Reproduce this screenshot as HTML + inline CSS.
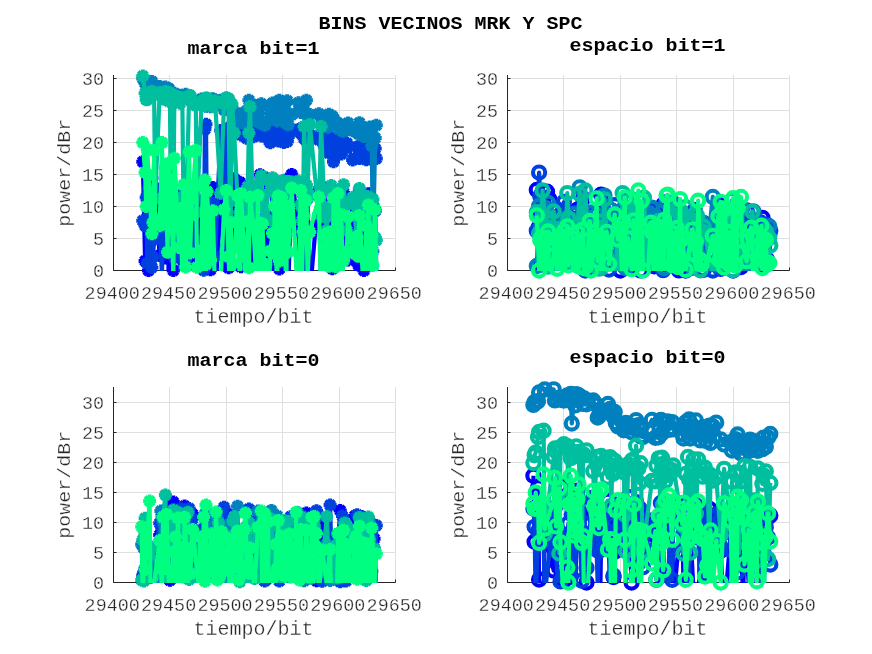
<!DOCTYPE html>
<html><head><meta charset="utf-8"><title>BINS VECINOS MRK Y SPC</title>
<style>html,body{margin:0;padding:0;background:#fff;overflow:hidden}svg{display:block}text{font-family:"Liberation Mono",monospace;fill:#262626}.tl{font-size:18.4px;stroke:#fff;stroke-width:.3px}.lb{font-size:20px;stroke:#fff;stroke-width:.32px}.tt{font-size:20px;font-weight:bold;fill:#000}.gr{stroke:#dfdfdf;stroke-width:1}.axl{fill:none;stroke:#262626;stroke-width:1}.tk{stroke:#262626;stroke-width:1}.ln{fill:none;stroke-width:4.2;stroke-linejoin:round}.mk{fill:none;stroke:none}</style></head><body>
<svg width="872" height="654" viewBox="0 0 872 654">
<rect width="872" height="654" fill="#fff"/>
<defs>
<marker id="ma0" markerUnits="userSpaceOnUse" markerWidth="16" markerHeight="16" refX="8" refY="8" overflow="visible"><path d="M8 1.5V14.5M1.5 8H14.5M3.4 3.4L12.6 12.6M12.6 3.4L3.4 12.6" stroke="#0000ff" stroke-width="4" fill="none"/></marker>
<marker id="mo0" markerUnits="userSpaceOnUse" markerWidth="22" markerHeight="22" refX="11" refY="11" overflow="visible"><circle cx="11" cy="11" r="6.1" stroke="#0000ff" stroke-width="4.1" fill="none"/></marker>
<marker id="ma1" markerUnits="userSpaceOnUse" markerWidth="16" markerHeight="16" refX="8" refY="8" overflow="visible"><path d="M8 1.5V14.5M1.5 8H14.5M3.4 3.4L12.6 12.6M12.6 3.4L3.4 12.6" stroke="#0040df" stroke-width="4" fill="none"/></marker>
<marker id="mo1" markerUnits="userSpaceOnUse" markerWidth="22" markerHeight="22" refX="11" refY="11" overflow="visible"><circle cx="11" cy="11" r="6.1" stroke="#0040df" stroke-width="4.1" fill="none"/></marker>
<marker id="ma2" markerUnits="userSpaceOnUse" markerWidth="16" markerHeight="16" refX="8" refY="8" overflow="visible"><path d="M8 1.5V14.5M1.5 8H14.5M3.4 3.4L12.6 12.6M12.6 3.4L3.4 12.6" stroke="#0080bf" stroke-width="4" fill="none"/></marker>
<marker id="mo2" markerUnits="userSpaceOnUse" markerWidth="22" markerHeight="22" refX="11" refY="11" overflow="visible"><circle cx="11" cy="11" r="6.1" stroke="#0080bf" stroke-width="4.1" fill="none"/></marker>
<marker id="ma3" markerUnits="userSpaceOnUse" markerWidth="16" markerHeight="16" refX="8" refY="8" overflow="visible"><path d="M8 1.5V14.5M1.5 8H14.5M3.4 3.4L12.6 12.6M12.6 3.4L3.4 12.6" stroke="#00bf9f" stroke-width="4" fill="none"/></marker>
<marker id="mo3" markerUnits="userSpaceOnUse" markerWidth="22" markerHeight="22" refX="11" refY="11" overflow="visible"><circle cx="11" cy="11" r="6.1" stroke="#00bf9f" stroke-width="4.1" fill="none"/></marker>
<marker id="ma4" markerUnits="userSpaceOnUse" markerWidth="16" markerHeight="16" refX="8" refY="8" overflow="visible"><path d="M8 1.5V14.5M1.5 8H14.5M3.4 3.4L12.6 12.6M12.6 3.4L3.4 12.6" stroke="#00ff80" stroke-width="4" fill="none"/></marker>
<marker id="mo4" markerUnits="userSpaceOnUse" markerWidth="22" markerHeight="22" refX="11" refY="11" overflow="visible"><circle cx="11" cy="11" r="6.1" stroke="#00ff80" stroke-width="4.1" fill="none"/></marker>
</defs>
<line x1="113.5" y1="75.0" x2="113.5" y2="270.5" class="gr"/>
<line x1="169.5" y1="75.0" x2="169.5" y2="270.5" class="gr"/>
<line x1="226.5" y1="75.0" x2="226.5" y2="270.5" class="gr"/>
<line x1="282.5" y1="75.0" x2="282.5" y2="270.5" class="gr"/>
<line x1="339.5" y1="75.0" x2="339.5" y2="270.5" class="gr"/>
<line x1="395.5" y1="75.0" x2="395.5" y2="270.5" class="gr"/>
<line x1="113.5" y1="270.5" x2="395.5" y2="270.5" class="gr"/>
<line x1="113.5" y1="238.5" x2="395.5" y2="238.5" class="gr"/>
<line x1="113.5" y1="206.5" x2="395.5" y2="206.5" class="gr"/>
<line x1="113.5" y1="174.5" x2="395.5" y2="174.5" class="gr"/>
<line x1="113.5" y1="142.5" x2="395.5" y2="142.5" class="gr"/>
<line x1="113.5" y1="110.5" x2="395.5" y2="110.5" class="gr"/>
<line x1="113.5" y1="78.5" x2="395.5" y2="78.5" class="gr"/>
<path d="M113.5 75.0V270.5H395.5" class="axl"/>
<line x1="113.5" y1="270.5" x2="113.5" y2="267.5" class="tk"/>
<line x1="169.5" y1="270.5" x2="169.5" y2="267.5" class="tk"/>
<line x1="226.5" y1="270.5" x2="226.5" y2="267.5" class="tk"/>
<line x1="282.5" y1="270.5" x2="282.5" y2="267.5" class="tk"/>
<line x1="339.5" y1="270.5" x2="339.5" y2="267.5" class="tk"/>
<line x1="395.5" y1="270.5" x2="395.5" y2="267.5" class="tk"/>
<line x1="113.5" y1="270.5" x2="116.5" y2="270.5" class="tk"/>
<line x1="113.5" y1="238.5" x2="116.5" y2="238.5" class="tk"/>
<line x1="113.5" y1="206.5" x2="116.5" y2="206.5" class="tk"/>
<line x1="113.5" y1="174.5" x2="116.5" y2="174.5" class="tk"/>
<line x1="113.5" y1="142.5" x2="116.5" y2="142.5" class="tk"/>
<line x1="113.5" y1="110.5" x2="116.5" y2="110.5" class="tk"/>
<line x1="113.5" y1="78.5" x2="116.5" y2="78.5" class="tk"/>
<clipPath id="cp0"><rect x="113.5" y="75.0" width="282.0" height="196.0"/></clipPath>
<polyline points="142.8,161.7 145.1,260.9 146.2,225.7 147.3,221.9 148.5,270.5 151.9,178.3 153.0,224.7 154.1,235.3 155.2,197.8 159.7,255.4 162.0,188.2 163.1,190.2 165.4,257.9 167.6,202.0 168.8,290.3 169.9,296.8 171.0,213.1 173.3,270.5 174.4,194.8 178.9,204.9 180.1,286.5 182.3,223.4 183.4,194.7 185.7,284.6 189.1,207.9 190.2,308.6 191.3,189.8 195.8,258.4 197.0,206.1 201.5,257.8 202.6,199.9 203.7,271.8 204.9,205.2 206.0,257.5 207.1,195.8 210.5,269.8 212.8,187.4 215.0,305.8 220.7,187.0 224.0,273.9 226.3,219.9 228.6,267.8 229.7,221.5 230.8,281.9 231.9,306.9 234.2,178.8 237.6,225.6 239.8,182.3 241.0,266.8 244.3,209.3 246.6,187.1 247.7,258.8 248.9,210.0 250.0,297.5 253.4,207.4 256.8,300.8 257.9,204.1 259.0,281.3 260.1,174.8 261.3,223.2 262.4,272.5 264.7,294.2 265.8,178.0 269.2,286.6 270.3,308.9 272.5,179.6 273.7,298.5 274.8,210.6 277.1,218.8 278.2,280.4 279.3,268.9 281.6,212.4 282.7,200.4 283.8,287.5 285.0,210.4 286.1,285.4 287.2,179.3 288.3,288.2 291.7,174.5 298.5,230.2 300.7,285.7 301.9,274.6 303.0,193.7 304.1,277.6 306.4,226.6 307.5,198.5 309.8,294.3 318.8,190.2 321.1,288.3 324.4,188.0 325.6,291.1 326.7,306.4 327.8,205.3 328.9,274.2 330.1,226.5 331.2,303.6 332.3,268.7 333.5,198.7 335.7,213.1 336.8,265.3 338.0,219.4 339.1,255.4 341.4,193.7 342.5,255.5 343.6,192.9 347.0,222.4 348.1,259.9 352.6,201.2 357.1,296.1 358.3,264.7 359.4,190.5 363.9,270.5 366.2,262.7 367.3,277.4 368.4,193.8 369.6,308.1 371.8,294.3 372.9,205.3 375.2,210.7 376.3,273.0" class="ln" stroke="#0000ff" clip-path="url(#cp0)"/>
<polyline points="142.8,161.7 145.1,260.9 146.2,225.7 147.3,221.9 148.5,270.5 151.9,178.3 153.0,224.7 154.1,235.3 155.2,197.8 159.7,255.4 162.0,188.2 163.1,190.2 165.4,257.9 167.6,202.0 171.0,213.1 173.3,270.5 174.4,194.8 178.9,204.9 182.3,223.4 183.4,194.7 189.1,207.9 191.3,189.8 195.8,258.4 197.0,206.1 201.5,257.8 202.6,199.9 204.9,205.2 206.0,257.5 207.1,195.8 210.5,269.8 212.8,187.4 220.7,187.0 226.3,219.9 228.6,267.8 229.7,221.5 234.2,178.8 237.6,225.6 239.8,182.3 241.0,266.8 244.3,209.3 246.6,187.1 247.7,258.8 248.9,210.0 253.4,207.4 257.9,204.1 260.1,174.8 261.3,223.2 265.8,178.0 272.5,179.6 274.8,210.6 277.1,218.8 279.3,268.9 281.6,212.4 282.7,200.4 285.0,210.4 287.2,179.3 291.7,174.5 298.5,230.2 303.0,193.7 306.4,226.6 307.5,198.5 318.8,190.2 324.4,188.0 327.8,205.3 330.1,226.5 332.3,268.7 333.5,198.7 335.7,213.1 336.8,265.3 338.0,219.4 339.1,255.4 341.4,193.7 342.5,255.5 343.6,192.9 347.0,222.4 348.1,259.9 352.6,201.2 358.3,264.7 359.4,190.5 363.9,270.5 366.2,262.7 368.4,193.8 372.9,205.3 375.2,210.7" class="mk" marker-start="url(#ma0)" marker-mid="url(#ma0)" marker-end="url(#ma0)"/>
<polyline points="142.8,220.8 145.1,225.7 146.2,197.5 147.3,263.3 148.5,188.7 151.9,267.4 153.0,257.1 154.1,239.4 155.2,217.2 159.7,223.3 162.0,276.0 163.1,206.8 165.4,244.9 167.6,240.0 168.8,236.6 169.9,248.9 171.0,201.3 173.3,248.1 174.4,258.0 178.9,195.9 180.1,273.5 182.3,259.1 183.4,293.4 185.7,238.0 189.1,276.9 190.2,247.8 191.3,197.9 195.8,247.0 197.0,240.3 201.5,263.1 202.6,267.7 203.7,270.3 204.9,129.2 206.0,124.2 207.1,255.7 210.5,235.3 212.8,203.5 215.0,256.7 220.7,130.6 224.0,131.4 226.3,245.7 228.6,137.2 229.7,127.5 230.8,135.2 231.9,130.4 234.2,132.1 237.6,129.1 239.8,133.0 241.0,134.9 244.3,125.7 246.6,138.2 247.7,127.6 248.9,136.6 250.0,137.3 253.4,136.7 256.8,134.5 257.9,127.9 259.0,130.6 260.1,125.9 261.3,136.0 262.4,130.4 264.7,129.4 265.8,134.7 269.2,140.7 270.3,142.7 272.5,126.6 273.7,131.1 274.8,131.3 277.1,128.6 278.2,141.0 279.3,131.0 281.6,140.5 282.7,126.5 283.8,142.4 285.0,134.9 286.1,127.4 287.2,141.5 288.3,137.1 291.7,130.5 298.5,129.4 300.7,133.2 301.9,127.9 303.0,130.0 304.1,138.6 306.4,131.6 307.5,143.2 309.8,134.4 318.8,139.8 321.1,133.5 324.4,146.4 325.6,151.3 326.7,149.3 327.8,134.4 328.9,153.1 330.1,148.1 331.2,137.5 332.3,144.4 333.5,161.7 335.7,154.0 336.8,154.0 338.0,138.5 339.1,145.5 341.4,153.9 342.5,140.6 343.6,147.6 347.0,143.3 348.1,146.6 352.6,159.9 357.1,147.1 358.3,146.8 359.4,158.5 363.9,157.0 366.2,159.7 367.3,154.2 368.4,143.9 369.6,152.1 371.8,159.4 372.9,156.8 375.2,148.6 376.3,158.5" class="ln" stroke="#0040df" clip-path="url(#cp0)"/>
<polyline points="142.8,220.8 145.1,225.7 146.2,197.5 147.3,263.3 148.5,188.7 151.9,267.4 153.0,257.1 154.1,239.4 155.2,217.2 159.7,223.3 163.1,206.8 165.4,244.9 167.6,240.0 168.8,236.6 169.9,248.9 171.0,201.3 173.3,248.1 174.4,258.0 178.9,195.9 182.3,259.1 185.7,238.0 190.2,247.8 191.3,197.9 195.8,247.0 197.0,240.3 201.5,263.1 202.6,267.7 203.7,270.3 204.9,129.2 206.0,124.2 207.1,255.7 210.5,235.3 212.8,203.5 215.0,256.7 220.7,130.6 224.0,131.4 226.3,245.7 228.6,137.2 229.7,127.5 230.8,135.2 231.9,130.4 234.2,132.1 237.6,129.1 239.8,133.0 241.0,134.9 244.3,125.7 246.6,138.2 247.7,127.6 248.9,136.6 250.0,137.3 253.4,136.7 256.8,134.5 257.9,127.9 259.0,130.6 260.1,125.9 261.3,136.0 262.4,130.4 264.7,129.4 265.8,134.7 269.2,140.7 270.3,142.7 272.5,126.6 273.7,131.1 274.8,131.3 277.1,128.6 278.2,141.0 279.3,131.0 281.6,140.5 282.7,126.5 283.8,142.4 285.0,134.9 286.1,127.4 287.2,141.5 288.3,137.1 291.7,130.5 298.5,129.4 300.7,133.2 301.9,127.9 303.0,130.0 304.1,138.6 306.4,131.6 307.5,143.2 309.8,134.4 318.8,139.8 321.1,133.5 324.4,146.4 325.6,151.3 326.7,149.3 327.8,134.4 328.9,153.1 330.1,148.1 331.2,137.5 332.3,144.4 333.5,161.7 335.7,154.0 336.8,154.0 338.0,138.5 339.1,145.5 341.4,153.9 342.5,140.6 343.6,147.6 347.0,143.3 348.1,146.6 352.6,159.9 357.1,147.1 358.3,146.8 359.4,158.5 363.9,157.0 366.2,159.7 367.3,154.2 368.4,143.9 369.6,152.1 371.8,159.4 372.9,156.8 375.2,148.6 376.3,158.5" class="mk" marker-start="url(#ma1)" marker-mid="url(#ma1)" marker-end="url(#ma1)"/>
<polyline points="142.8,78.6 145.1,83.1 146.2,85.0 147.3,86.6 148.5,81.7 151.9,81.4 153.0,89.7 154.1,90.7 155.2,86.1 159.7,86.4 162.0,88.4 163.1,88.1 165.4,87.1 167.6,91.8 168.8,88.6 169.9,94.3 171.0,96.1 173.3,95.1 174.4,93.2 178.9,97.8 180.1,95.3 182.3,97.3 183.4,97.1 185.7,94.2 189.1,95.6 190.2,96.8 191.3,101.3 195.8,103.5 197.0,102.5 201.5,99.1 202.6,101.8 203.7,99.2 204.9,103.9 206.0,106.2 207.1,98.4 210.5,106.7 212.8,98.7 215.0,99.9 220.7,100.3 224.0,109.7 226.3,98.2 228.6,99.7 229.7,107.4 230.8,111.1 231.9,107.7 234.2,120.9 237.6,121.9 239.8,113.7 241.0,116.0 244.3,123.8 246.6,110.8 247.7,119.9 248.9,100.3 250.0,115.0 253.4,112.7 256.8,105.6 257.9,121.8 259.0,109.6 260.1,122.9 261.3,103.8 262.4,121.8 264.7,125.3 265.8,122.5 269.2,105.9 270.3,113.4 272.5,103.1 273.7,117.7 274.8,106.5 277.1,121.1 278.2,106.5 279.3,100.3 281.6,112.1 282.7,116.1 283.8,105.8 285.0,109.3 286.1,123.6 287.2,100.8 288.3,124.8 291.7,114.7 298.5,102.8 300.7,112.5 301.9,107.3 303.0,106.0 304.1,111.4 306.4,100.3 307.5,115.5 309.8,114.5 318.8,113.8 321.1,118.5 324.4,122.4 325.6,119.5 326.7,125.6 327.8,127.3 328.9,114.2 330.1,124.1 331.2,120.0 332.3,116.2 333.5,118.5 335.7,123.1 336.8,122.5 338.0,123.2 339.1,129.2 341.4,126.5 342.5,130.9 343.6,131.1 347.0,129.6 348.1,123.0 352.6,130.7 357.1,132.1 358.3,133.9 359.4,122.7 363.9,136.4 366.2,134.5 367.3,130.8 368.4,136.2 369.6,127.1 371.8,145.7 372.9,251.3 375.2,138.0 376.3,125.2" class="ln" stroke="#0080bf" clip-path="url(#cp0)"/>
<polyline points="142.8,78.6 145.1,83.1 146.2,85.0 147.3,86.6 148.5,81.7 151.9,81.4 153.0,89.7 154.1,90.7 155.2,86.1 159.7,86.4 162.0,88.4 163.1,88.1 165.4,87.1 167.6,91.8 168.8,88.6 169.9,94.3 171.0,96.1 173.3,95.1 174.4,93.2 178.9,97.8 180.1,95.3 182.3,97.3 183.4,97.1 185.7,94.2 189.1,95.6 190.2,96.8 191.3,101.3 195.8,103.5 197.0,102.5 201.5,99.1 202.6,101.8 203.7,99.2 204.9,103.9 206.0,106.2 207.1,98.4 210.5,106.7 212.8,98.7 215.0,99.9 220.7,100.3 224.0,109.7 226.3,98.2 228.6,99.7 229.7,107.4 230.8,111.1 231.9,107.7 234.2,120.9 237.6,121.9 239.8,113.7 241.0,116.0 244.3,123.8 246.6,110.8 247.7,119.9 248.9,100.3 250.0,115.0 253.4,112.7 256.8,105.6 257.9,121.8 259.0,109.6 260.1,122.9 261.3,103.8 262.4,121.8 264.7,125.3 265.8,122.5 269.2,105.9 270.3,113.4 272.5,103.1 273.7,117.7 274.8,106.5 277.1,121.1 278.2,106.5 279.3,100.3 281.6,112.1 282.7,116.1 283.8,105.8 285.0,109.3 286.1,123.6 287.2,100.8 288.3,124.8 291.7,114.7 298.5,102.8 300.7,112.5 301.9,107.3 303.0,106.0 304.1,111.4 306.4,100.3 307.5,115.5 309.8,114.5 318.8,113.8 321.1,118.5 324.4,122.4 325.6,119.5 326.7,125.6 327.8,127.3 328.9,114.2 330.1,124.1 331.2,120.0 332.3,116.2 333.5,118.5 335.7,123.1 336.8,122.5 338.0,123.2 339.1,129.2 341.4,126.5 342.5,130.9 343.6,131.1 347.0,129.6 348.1,123.0 352.6,130.7 357.1,132.1 358.3,133.9 359.4,122.7 363.9,136.4 366.2,134.5 367.3,130.8 368.4,136.2 369.6,127.1 371.8,145.7 372.9,251.3 375.2,138.0 376.3,125.2" class="mk" marker-start="url(#ma2)" marker-mid="url(#ma2)" marker-end="url(#ma2)"/>
<polyline points="142.8,75.9 145.1,93.2 146.2,99.8 147.3,99.5 148.5,93.2 151.9,91.2 153.0,94.8 154.1,93.5 155.2,198.5 159.7,92.6 162.0,93.8 163.1,99.1 165.4,91.6 167.6,99.5 168.8,101.2 169.9,92.7 171.0,230.2 173.3,210.7 174.4,95.5 178.9,97.2 180.1,103.2 182.3,98.1 183.4,196.7 185.7,227.5 189.1,96.0 190.2,95.6 191.3,99.4 195.8,105.5 197.0,212.2 201.5,103.9 202.6,100.7 203.7,100.2 204.9,105.8 206.0,98.1 207.1,98.3 210.5,102.6 212.8,106.5 215.0,100.9 220.7,193.2 224.0,103.8 226.3,97.8 228.6,98.7 229.7,196.8 230.8,221.0 231.9,104.1 234.2,132.9 237.6,201.3 239.8,212.3 241.0,213.6 244.3,197.0 246.6,218.5 247.7,186.7 248.9,132.9 250.0,106.7 253.4,226.9 256.8,184.4 257.9,199.7 259.0,194.1 260.1,198.2 261.3,175.8 262.4,207.4 264.7,209.1 265.8,218.6 269.2,181.1 270.3,190.9 272.5,177.8 273.7,221.2 274.8,182.3 277.1,201.5 278.2,189.3 279.3,181.8 281.6,244.4 282.7,180.6 283.8,211.2 285.0,237.3 286.1,234.5 287.2,189.9 288.3,181.5 291.7,182.0 298.5,180.9 300.7,205.1 301.9,221.0 303.0,209.5 304.1,126.5 306.4,184.9 307.5,191.7 309.8,124.6 318.8,213.9 321.1,126.5 324.4,208.4 325.6,217.5 326.7,230.4 327.8,207.7 328.9,208.4 330.1,189.0 331.2,185.4 332.3,191.1 333.5,197.5 335.7,190.3 336.8,211.9 338.0,226.8 339.1,210.8 341.4,205.2 342.5,204.3 343.6,184.8 347.0,230.7 348.1,204.5 352.6,197.5 357.1,239.2 358.3,203.8 359.4,188.4 363.9,201.0 366.2,215.0 367.3,196.3 368.4,211.6 369.6,210.8 371.8,233.6 372.9,199.2 375.2,237.8 376.3,240.2" class="ln" stroke="#00bf9f" clip-path="url(#cp0)"/>
<polyline points="142.8,75.9 145.1,93.2 146.2,99.8 147.3,99.5 148.5,93.2 151.9,91.2 153.0,94.8 154.1,93.5 155.2,198.5 159.7,92.6 162.0,93.8 163.1,99.1 165.4,91.6 167.6,99.5 168.8,101.2 169.9,92.7 171.0,230.2 173.3,210.7 174.4,95.5 178.9,97.2 180.1,103.2 182.3,98.1 183.4,196.7 185.7,227.5 189.1,96.0 190.2,95.6 191.3,99.4 195.8,105.5 197.0,212.2 201.5,103.9 202.6,100.7 203.7,100.2 204.9,105.8 206.0,98.1 207.1,98.3 210.5,102.6 212.8,106.5 215.0,100.9 220.7,193.2 224.0,103.8 226.3,97.8 228.6,98.7 229.7,196.8 230.8,221.0 231.9,104.1 234.2,132.9 237.6,201.3 239.8,212.3 241.0,213.6 244.3,197.0 246.6,218.5 247.7,186.7 248.9,132.9 250.0,106.7 253.4,226.9 256.8,184.4 257.9,199.7 259.0,194.1 260.1,198.2 261.3,175.8 262.4,207.4 264.7,209.1 265.8,218.6 269.2,181.1 270.3,190.9 272.5,177.8 273.7,221.2 274.8,182.3 277.1,201.5 278.2,189.3 279.3,181.8 281.6,244.4 282.7,180.6 283.8,211.2 285.0,237.3 286.1,234.5 287.2,189.9 288.3,181.5 291.7,182.0 298.5,180.9 300.7,205.1 301.9,221.0 303.0,209.5 304.1,126.5 306.4,184.9 307.5,191.7 309.8,124.6 318.8,213.9 321.1,126.5 324.4,208.4 325.6,217.5 326.7,230.4 327.8,207.7 328.9,208.4 330.1,189.0 331.2,185.4 332.3,191.1 333.5,197.5 335.7,190.3 336.8,211.9 338.0,226.8 339.1,210.8 341.4,205.2 342.5,204.3 343.6,184.8 347.0,230.7 348.1,204.5 352.6,197.5 357.1,239.2 358.3,203.8 359.4,188.4 363.9,201.0 366.2,215.0 367.3,196.3 368.4,211.6 369.6,210.8 371.8,233.6 372.9,199.2 375.2,237.8 376.3,240.2" class="mk" marker-start="url(#ma3)" marker-mid="url(#ma3)" marker-end="url(#ma3)"/>
<polyline points="142.8,142.5 145.1,172.6 146.2,206.5 147.3,149.2 148.5,174.9 151.9,233.7 153.0,222.6 154.1,150.6 155.2,223.7 159.7,225.7 162.0,142.5 163.1,216.4 165.4,168.0 167.6,252.3 168.8,163.0 169.9,189.4 171.0,180.3 173.3,277.4 174.4,158.2 178.9,247.5 180.1,208.4 182.3,271.7 183.4,185.0 185.7,266.9 189.1,152.1 190.2,252.9 191.3,215.2 195.8,150.2 197.0,267.3 201.5,250.2 202.6,186.0 203.7,302.4 204.9,179.9 206.0,264.6 207.1,191.6 210.5,260.0 212.8,210.8 215.0,291.5 220.7,280.2 224.0,209.7 226.3,190.4 228.6,256.8 229.7,292.2 230.8,222.7 231.9,288.7 234.2,263.0 237.6,195.5 239.8,285.6 241.0,193.7 244.3,256.5 246.6,308.5 247.7,221.7 248.9,267.8 250.0,197.3 253.4,226.8 256.8,288.1 257.9,195.6 259.0,280.7 260.1,223.3 261.3,283.7 262.4,224.1 264.7,278.5 265.8,264.6 269.2,287.2 270.3,250.9 272.5,233.2 273.7,253.1 274.8,206.3 277.1,291.0 278.2,195.9 279.3,261.1 281.6,197.4 282.7,219.9 283.8,253.6 285.0,211.9 286.1,308.8 287.2,206.4 288.3,252.1 291.7,188.1 298.5,306.9 300.7,190.4 301.9,295.0 303.0,231.7 304.1,215.9 306.4,200.6 307.5,277.9 309.8,232.0 318.8,197.0 321.1,303.5 324.4,235.4 325.6,290.7 326.7,279.8 327.8,232.7 328.9,266.3 330.1,232.6 331.2,287.9 332.3,306.5 333.5,198.0 335.7,266.8 336.8,274.4 338.0,193.6 339.1,284.1 341.4,214.8 342.5,272.8 343.6,260.6 347.0,251.2 348.1,216.7 352.6,253.0 357.1,236.6 358.3,256.3 359.4,215.4 363.9,294.5 366.2,226.1 367.3,273.9 368.4,205.1 369.6,283.6 371.8,234.7 372.9,265.4 375.2,209.7 376.3,279.4" class="ln" stroke="#00ff80" clip-path="url(#cp0)"/>
<polyline points="142.8,142.5 145.1,172.6 146.2,206.5 147.3,149.2 148.5,174.9 151.9,233.7 153.0,222.6 154.1,150.6 155.2,223.7 159.7,225.7 162.0,142.5 163.1,216.4 165.4,168.0 167.6,252.3 168.8,163.0 169.9,189.4 171.0,180.3 174.4,158.2 178.9,247.5 180.1,208.4 183.4,185.0 185.7,266.9 189.1,152.1 190.2,252.9 191.3,215.2 195.8,150.2 197.0,267.3 201.5,250.2 202.6,186.0 204.9,179.9 206.0,264.6 207.1,191.6 210.5,260.0 212.8,210.8 224.0,209.7 226.3,190.4 228.6,256.8 230.8,222.7 234.2,263.0 237.6,195.5 241.0,193.7 244.3,256.5 247.7,221.7 248.9,267.8 250.0,197.3 253.4,226.8 257.9,195.6 260.1,223.3 262.4,224.1 265.8,264.6 270.3,250.9 272.5,233.2 273.7,253.1 274.8,206.3 278.2,195.9 279.3,261.1 281.6,197.4 282.7,219.9 283.8,253.6 285.0,211.9 287.2,206.4 288.3,252.1 291.7,188.1 300.7,190.4 303.0,231.7 304.1,215.9 306.4,200.6 309.8,232.0 318.8,197.0 324.4,235.4 327.8,232.7 328.9,266.3 330.1,232.6 333.5,198.0 335.7,266.8 338.0,193.6 341.4,214.8 343.6,260.6 347.0,251.2 348.1,216.7 352.6,253.0 357.1,236.6 358.3,256.3 359.4,215.4 366.2,226.1 368.4,205.1 371.8,234.7 372.9,265.4 375.2,209.7" class="mk" marker-start="url(#ma4)" marker-mid="url(#ma4)" marker-end="url(#ma4)"/>
<line x1="507.5" y1="75.0" x2="507.5" y2="270.5" class="gr"/>
<line x1="563.5" y1="75.0" x2="563.5" y2="270.5" class="gr"/>
<line x1="620.5" y1="75.0" x2="620.5" y2="270.5" class="gr"/>
<line x1="676.5" y1="75.0" x2="676.5" y2="270.5" class="gr"/>
<line x1="733.5" y1="75.0" x2="733.5" y2="270.5" class="gr"/>
<line x1="789.5" y1="75.0" x2="789.5" y2="270.5" class="gr"/>
<line x1="507.5" y1="270.5" x2="789.5" y2="270.5" class="gr"/>
<line x1="507.5" y1="238.5" x2="789.5" y2="238.5" class="gr"/>
<line x1="507.5" y1="206.5" x2="789.5" y2="206.5" class="gr"/>
<line x1="507.5" y1="174.5" x2="789.5" y2="174.5" class="gr"/>
<line x1="507.5" y1="142.5" x2="789.5" y2="142.5" class="gr"/>
<line x1="507.5" y1="110.5" x2="789.5" y2="110.5" class="gr"/>
<line x1="507.5" y1="78.5" x2="789.5" y2="78.5" class="gr"/>
<path d="M507.5 75.0V270.5H789.5" class="axl"/>
<line x1="507.5" y1="270.5" x2="507.5" y2="267.5" class="tk"/>
<line x1="563.5" y1="270.5" x2="563.5" y2="267.5" class="tk"/>
<line x1="620.5" y1="270.5" x2="620.5" y2="267.5" class="tk"/>
<line x1="676.5" y1="270.5" x2="676.5" y2="267.5" class="tk"/>
<line x1="733.5" y1="270.5" x2="733.5" y2="267.5" class="tk"/>
<line x1="789.5" y1="270.5" x2="789.5" y2="267.5" class="tk"/>
<line x1="507.5" y1="270.5" x2="510.5" y2="270.5" class="tk"/>
<line x1="507.5" y1="238.5" x2="510.5" y2="238.5" class="tk"/>
<line x1="507.5" y1="206.5" x2="510.5" y2="206.5" class="tk"/>
<line x1="507.5" y1="174.5" x2="510.5" y2="174.5" class="tk"/>
<line x1="507.5" y1="142.5" x2="510.5" y2="142.5" class="tk"/>
<line x1="507.5" y1="110.5" x2="510.5" y2="110.5" class="tk"/>
<line x1="507.5" y1="78.5" x2="510.5" y2="78.5" class="tk"/>
<clipPath id="cp1"><rect x="507.5" y="75.0" width="282.0" height="196.0"/></clipPath>
<polyline points="536.8,189.9 539.1,226.7 540.2,211.7 541.3,264.4 542.5,220.5 545.9,256.8 547.0,191.7 548.1,263.9 549.2,199.1 553.7,277.8 556.0,216.8 557.1,251.6 559.4,251.4 561.6,228.0 562.8,292.2 563.9,239.7 565.0,240.9 567.3,297.6 568.4,290.1 572.9,226.4 574.1,261.1 576.3,287.9 577.4,209.6 579.7,281.5 583.1,198.4 584.2,300.4 585.3,276.2 589.8,231.7 591.0,286.6 595.5,213.8 596.6,261.2 597.7,237.5 598.9,292.7 600.0,220.6 601.1,194.6 604.5,299.3 606.8,278.8 609.0,224.1 614.7,288.5 618.0,241.2 620.3,270.5 622.6,258.0 623.7,241.4 624.8,301.1 625.9,200.7 628.2,267.3 631.6,227.1 633.8,265.6 635.0,290.1 638.3,236.6 640.6,270.4 641.7,214.1 642.9,275.9 644.0,262.9 647.4,234.5 650.8,287.5 651.9,211.6 653.0,237.7 654.1,266.3 655.3,227.7 656.4,281.2 658.7,240.2 659.8,257.7 663.2,204.8 664.3,275.9 666.5,241.7 667.7,255.9 668.8,229.4 671.1,289.1 672.2,208.7 673.3,275.2 675.6,236.9 676.7,301.9 677.8,241.6 679.0,270.4 680.1,271.2 681.2,274.9 682.3,239.2 685.7,270.5 692.5,278.6 694.7,240.8 695.9,260.0 697.0,222.6 698.1,260.2 700.4,233.0 701.5,284.3 703.8,223.2 712.8,300.5 715.1,230.3 718.4,259.5 719.6,204.0 720.7,268.8 721.8,237.5 722.9,229.1 724.1,255.7 725.2,290.3 726.3,252.7 727.5,292.0 729.7,241.7 730.8,224.4 732.0,263.4 733.1,270.5 735.4,241.2 736.5,256.1 737.6,228.8 741.0,267.1 742.1,218.1 746.6,277.7 751.1,228.5 752.3,240.1 753.4,257.0 757.9,281.3 760.2,236.5 761.3,265.3 762.4,217.8 763.6,259.8 765.8,226.6 766.9,259.6 769.2,235.8 770.3,278.4" class="ln" stroke="#0000ff" clip-path="url(#cp1)"/>
<polyline points="536.8,189.9 539.1,226.7 540.2,211.7 541.3,264.4 542.5,220.5 545.9,256.8 547.0,191.7 548.1,263.9 549.2,199.1 556.0,216.8 557.1,251.6 559.4,251.4 561.6,228.0 563.9,239.7 565.0,240.9 572.9,226.4 574.1,261.1 577.4,209.6 583.1,198.4 589.8,231.7 595.5,213.8 596.6,261.2 597.7,237.5 600.0,220.6 601.1,194.6 609.0,224.1 618.0,241.2 620.3,270.5 622.6,258.0 623.7,241.4 625.9,200.7 628.2,267.3 631.6,227.1 633.8,265.6 638.3,236.6 640.6,270.4 641.7,214.1 644.0,262.9 647.4,234.5 651.9,211.6 653.0,237.7 654.1,266.3 655.3,227.7 658.7,240.2 659.8,257.7 663.2,204.8 666.5,241.7 667.7,255.9 668.8,229.4 672.2,208.7 675.6,236.9 677.8,241.6 679.0,270.4 682.3,239.2 685.7,270.5 694.7,240.8 695.9,260.0 697.0,222.6 698.1,260.2 700.4,233.0 703.8,223.2 715.1,230.3 718.4,259.5 719.6,204.0 720.7,268.8 721.8,237.5 722.9,229.1 724.1,255.7 726.3,252.7 729.7,241.7 730.8,224.4 732.0,263.4 733.1,270.5 735.4,241.2 736.5,256.1 737.6,228.8 741.0,267.1 742.1,218.1 751.1,228.5 752.3,240.1 753.4,257.0 760.2,236.5 761.3,265.3 762.4,217.8 763.6,259.8 765.8,226.6 766.9,259.6 769.2,235.8" class="mk" marker-start="url(#mo0)" marker-mid="url(#mo0)" marker-end="url(#mo0)"/>
<polyline points="536.8,230.7 539.1,172.6 540.2,195.9 541.3,271.8 542.5,237.8 545.9,256.5 547.0,227.1 548.1,299.1 549.2,234.8 553.7,218.7 556.0,282.4 557.1,209.2 559.4,274.6 561.6,297.1 562.8,297.0 563.9,202.0 565.0,224.8 567.3,300.2 568.4,235.3 572.9,282.2 574.1,212.8 576.3,294.4 577.4,263.1 579.7,295.3 583.1,241.0 584.2,292.9 585.3,270.5 589.8,232.2 591.0,291.9 595.5,301.8 596.6,225.1 597.7,274.7 598.9,229.7 600.0,236.6 601.1,294.9 604.5,216.6 606.8,299.3 609.0,269.6 614.7,205.2 618.0,212.1 620.3,299.5 622.6,288.5 623.7,217.8 624.8,267.0 625.9,241.7 628.2,265.5 631.6,218.7 633.8,278.0 635.0,238.8 638.3,289.3 640.6,210.5 641.7,297.9 642.9,239.1 644.0,287.8 647.4,239.7 650.8,274.2 651.9,210.9 653.0,260.6 654.1,222.4 655.3,282.3 656.4,213.2 658.7,218.1 659.8,239.9 663.2,270.2 664.3,241.1 666.5,264.9 667.7,210.7 668.8,276.0 671.1,230.1 672.2,254.9 673.3,210.8 675.6,274.8 676.7,222.8 677.8,213.3 679.0,258.4 680.1,230.6 681.2,222.5 682.3,276.7 685.7,237.8 692.5,300.2 694.7,209.9 695.9,299.4 697.0,236.1 698.1,225.7 700.4,270.1 701.5,293.2 703.8,269.8 712.8,270.5 715.1,263.2 718.4,240.2 719.6,267.9 720.7,218.9 721.8,263.8 722.9,268.0 724.1,231.4 725.2,271.4 726.3,240.0 727.5,280.3 729.7,222.7 730.8,294.6 732.0,211.9 733.1,288.8 735.4,232.5 736.5,284.5 737.6,292.7 741.0,214.8 742.1,297.3 746.6,210.3 751.1,281.6 752.3,236.9 753.4,253.0 757.9,290.6 760.2,222.2 761.3,257.8 762.4,236.0 763.6,253.3 765.8,226.3 766.9,224.8 769.2,287.1 770.3,230.5" class="ln" stroke="#0040df" clip-path="url(#cp1)"/>
<polyline points="536.8,230.7 539.1,172.6 540.2,195.9 542.5,237.8 545.9,256.5 547.0,227.1 549.2,234.8 553.7,218.7 557.1,209.2 563.9,202.0 565.0,224.8 568.4,235.3 574.1,212.8 577.4,263.1 583.1,241.0 585.3,270.5 589.8,232.2 596.6,225.1 598.9,229.7 600.0,236.6 604.5,216.6 609.0,269.6 614.7,205.2 618.0,212.1 623.7,217.8 624.8,267.0 625.9,241.7 628.2,265.5 631.6,218.7 635.0,238.8 640.6,210.5 642.9,239.1 647.4,239.7 651.9,210.9 653.0,260.6 654.1,222.4 656.4,213.2 658.7,218.1 659.8,239.9 663.2,270.2 664.3,241.1 666.5,264.9 667.7,210.7 671.1,230.1 672.2,254.9 673.3,210.8 676.7,222.8 677.8,213.3 679.0,258.4 680.1,230.6 681.2,222.5 685.7,237.8 694.7,209.9 697.0,236.1 698.1,225.7 700.4,270.1 703.8,269.8 712.8,270.5 715.1,263.2 718.4,240.2 719.6,267.9 720.7,218.9 721.8,263.8 722.9,268.0 724.1,231.4 726.3,240.0 729.7,222.7 732.0,211.9 735.4,232.5 741.0,214.8 746.6,210.3 752.3,236.9 753.4,253.0 760.2,222.2 761.3,257.8 762.4,236.0 763.6,253.3 765.8,226.3 766.9,224.8 770.3,230.5" class="mk" marker-start="url(#mo1)" marker-mid="url(#mo1)" marker-end="url(#mo1)"/>
<polyline points="536.8,266.0 539.1,206.0 540.2,292.4 541.3,226.9 542.5,287.2 545.9,208.1 547.0,299.6 548.1,202.9 549.2,294.4 553.7,220.3 556.0,262.1 557.1,221.7 559.4,297.1 561.6,291.8 562.8,258.7 563.9,226.4 565.0,297.1 567.3,218.1 568.4,271.9 572.9,272.2 574.1,214.3 576.3,278.9 577.4,230.8 579.7,187.3 583.1,214.2 584.2,295.1 585.3,228.9 589.8,281.3 591.0,212.3 595.5,252.0 596.6,214.5 597.7,238.6 598.9,239.0 600.0,285.8 601.1,233.3 604.5,195.6 606.8,238.6 609.0,208.6 614.7,225.1 618.0,299.0 620.3,253.8 622.6,209.5 623.7,254.4 624.8,226.1 625.9,268.2 628.2,238.6 631.6,200.8 633.8,223.2 635.0,295.8 638.3,212.5 640.6,227.2 641.7,276.7 642.9,207.5 644.0,258.0 647.4,239.5 650.8,283.3 651.9,207.7 653.0,283.1 654.1,277.8 655.3,216.0 656.4,300.6 658.7,240.7 659.8,274.1 663.2,235.4 664.3,268.2 666.5,202.0 667.7,221.4 668.8,280.7 671.1,231.4 672.2,286.0 673.3,203.0 675.6,301.3 676.7,206.4 677.8,265.5 679.0,241.5 680.1,254.3 681.2,234.5 682.3,297.5 685.7,237.3 692.5,267.8 694.7,240.1 695.9,240.3 697.0,255.5 698.1,241.1 700.4,223.7 701.5,222.0 703.8,279.3 712.8,196.9 715.1,264.5 718.4,216.0 719.6,292.0 720.7,230.8 721.8,300.6 722.9,241.4 724.1,300.3 725.2,219.6 726.3,289.6 727.5,288.2 729.7,236.3 730.8,276.5 732.0,236.9 733.1,260.3 735.4,208.7 736.5,271.3 737.6,236.0 741.0,285.2 742.1,208.3 746.6,294.7 751.1,240.0 752.3,292.3 753.4,211.3 757.9,238.3 760.2,275.2 761.3,239.1 762.4,225.4 763.6,296.6 765.8,235.6 766.9,301.1 769.2,226.3 770.3,292.5" class="ln" stroke="#0080bf" clip-path="url(#cp1)"/>
<polyline points="536.8,266.0 539.1,206.0 541.3,226.9 545.9,208.1 548.1,202.9 553.7,220.3 556.0,262.1 557.1,221.7 562.8,258.7 563.9,226.4 567.3,218.1 574.1,214.3 577.4,230.8 579.7,187.3 583.1,214.2 585.3,228.9 591.0,212.3 595.5,252.0 596.6,214.5 597.7,238.6 598.9,239.0 601.1,233.3 604.5,195.6 606.8,238.6 609.0,208.6 614.7,225.1 620.3,253.8 622.6,209.5 623.7,254.4 624.8,226.1 625.9,268.2 628.2,238.6 631.6,200.8 633.8,223.2 638.3,212.5 640.6,227.2 642.9,207.5 644.0,258.0 647.4,239.5 651.9,207.7 655.3,216.0 658.7,240.7 663.2,235.4 664.3,268.2 666.5,202.0 667.7,221.4 671.1,231.4 673.3,203.0 676.7,206.4 677.8,265.5 679.0,241.5 680.1,254.3 681.2,234.5 685.7,237.3 692.5,267.8 694.7,240.1 695.9,240.3 697.0,255.5 698.1,241.1 700.4,223.7 701.5,222.0 712.8,196.9 715.1,264.5 718.4,216.0 720.7,230.8 722.9,241.4 725.2,219.6 729.7,236.3 732.0,236.9 733.1,260.3 735.4,208.7 737.6,236.0 742.1,208.3 751.1,240.0 753.4,211.3 757.9,238.3 761.3,239.1 762.4,225.4 765.8,235.6 769.2,226.3" class="mk" marker-start="url(#mo2)" marker-mid="url(#mo2)" marker-end="url(#mo2)"/>
<polyline points="536.8,212.2 539.1,233.4 540.2,282.8 541.3,240.8 542.5,190.5 545.9,227.3 547.0,217.9 548.1,266.7 549.2,284.6 553.7,211.4 556.0,292.6 557.1,229.1 559.4,252.1 561.6,235.9 562.8,286.7 563.9,227.7 565.0,257.4 567.3,193.1 568.4,218.3 572.9,258.6 574.1,236.8 576.3,265.0 577.4,230.2 579.7,193.9 583.1,230.9 584.2,263.6 585.3,190.5 589.8,282.4 591.0,264.8 595.5,237.9 596.6,264.9 597.7,254.4 598.9,268.7 600.0,221.5 601.1,268.0 604.5,199.5 606.8,258.5 609.0,241.6 614.7,281.8 618.0,238.6 620.3,294.4 622.6,193.1 623.7,263.5 624.8,222.0 625.9,275.2 628.2,222.7 631.6,199.2 633.8,284.1 635.0,207.1 638.3,258.1 640.6,235.3 641.7,259.2 642.9,226.2 644.0,197.7 647.4,278.1 650.8,229.0 651.9,288.8 653.0,289.0 654.1,241.7 655.3,226.2 656.4,286.6 658.7,220.9 659.8,287.9 663.2,227.5 664.3,241.7 666.5,232.6 667.7,291.1 668.8,241.6 671.1,278.5 672.2,241.7 673.3,286.8 675.6,209.8 676.7,240.4 677.8,211.1 679.0,286.4 680.1,236.7 681.2,262.6 682.3,231.9 685.7,207.2 692.5,265.4 694.7,214.3 695.9,260.7 697.0,215.4 698.1,236.5 700.4,270.3 701.5,231.1 703.8,226.9 712.8,276.0 715.1,240.9 718.4,282.2 719.6,241.1 720.7,255.4 721.8,212.5 722.9,300.7 724.1,218.2 725.2,296.9 726.3,219.1 727.5,223.7 729.7,230.9 730.8,257.5 732.0,200.1 733.1,270.3 735.4,222.2 736.5,262.2 737.6,302.2 741.0,239.5 742.1,261.4 746.6,238.2 751.1,253.0 752.3,211.7 753.4,262.3 757.9,240.2 760.2,259.8 761.3,241.1 762.4,301.2 763.6,233.8 765.8,230.9 766.9,293.8 769.2,238.1 770.3,245.5" class="ln" stroke="#00bf9f" clip-path="url(#cp1)"/>
<polyline points="536.8,212.2 539.1,233.4 541.3,240.8 542.5,190.5 545.9,227.3 547.0,217.9 548.1,266.7 553.7,211.4 557.1,229.1 559.4,252.1 561.6,235.9 563.9,227.7 565.0,257.4 567.3,193.1 568.4,218.3 572.9,258.6 574.1,236.8 576.3,265.0 577.4,230.2 579.7,193.9 583.1,230.9 584.2,263.6 585.3,190.5 591.0,264.8 595.5,237.9 596.6,264.9 597.7,254.4 598.9,268.7 600.0,221.5 601.1,268.0 604.5,199.5 606.8,258.5 609.0,241.6 618.0,238.6 622.6,193.1 623.7,263.5 624.8,222.0 628.2,222.7 631.6,199.2 635.0,207.1 638.3,258.1 640.6,235.3 641.7,259.2 642.9,226.2 644.0,197.7 650.8,229.0 654.1,241.7 655.3,226.2 658.7,220.9 663.2,227.5 664.3,241.7 666.5,232.6 668.8,241.6 672.2,241.7 675.6,209.8 676.7,240.4 677.8,211.1 680.1,236.7 681.2,262.6 682.3,231.9 685.7,207.2 692.5,265.4 694.7,214.3 695.9,260.7 697.0,215.4 698.1,236.5 700.4,270.3 701.5,231.1 703.8,226.9 715.1,240.9 719.6,241.1 720.7,255.4 721.8,212.5 724.1,218.2 726.3,219.1 727.5,223.7 729.7,230.9 730.8,257.5 732.0,200.1 733.1,270.3 735.4,222.2 736.5,262.2 741.0,239.5 742.1,261.4 746.6,238.2 751.1,253.0 752.3,211.7 753.4,262.3 757.9,240.2 760.2,259.8 761.3,241.1 763.6,233.8 765.8,230.9 769.2,238.1 770.3,245.5" class="mk" marker-start="url(#mo3)" marker-mid="url(#mo3)" marker-end="url(#mo3)"/>
<polyline points="536.8,215.5 539.1,270.5 540.2,240.2 541.3,237.6 542.5,287.2 545.9,237.9 547.0,273.5 548.1,231.5 549.2,292.8 553.7,255.2 556.0,239.5 557.1,268.8 559.4,239.1 561.6,281.7 562.8,240.2 563.9,231.2 565.0,278.0 567.3,226.4 568.4,265.3 572.9,238.9 574.1,294.9 576.3,259.3 577.4,232.5 579.7,266.7 583.1,229.6 584.2,268.3 585.3,293.2 589.8,221.0 591.0,270.5 595.5,236.3 596.6,198.4 597.7,260.9 598.9,236.4 600.0,240.2 601.1,279.9 604.5,241.6 606.8,231.9 609.0,263.9 614.7,214.5 618.0,239.5 620.3,229.0 622.6,287.6 623.7,222.4 624.8,197.5 625.9,273.8 628.2,238.3 631.6,269.2 633.8,220.3 635.0,283.5 638.3,190.5 640.6,280.9 641.7,201.0 642.9,270.5 644.0,291.0 647.4,286.5 650.8,222.7 651.9,231.9 653.0,229.3 654.1,299.4 655.3,227.4 656.4,258.5 658.7,287.9 659.8,227.2 663.2,302.3 664.3,219.9 666.5,195.6 667.7,194.6 668.8,286.9 671.1,232.2 672.2,265.2 673.3,239.9 675.6,294.4 676.7,228.1 677.8,267.1 679.0,241.7 680.1,199.1 681.2,288.7 682.3,239.2 685.7,269.9 692.5,229.3 694.7,254.7 695.9,241.7 697.0,293.9 698.1,200.7 700.4,259.9 701.5,264.5 703.8,277.3 712.8,235.9 715.1,256.2 718.4,216.3 719.6,260.4 720.7,201.9 721.8,260.0 722.9,208.4 724.1,267.5 725.2,209.3 726.3,276.8 727.5,232.0 729.7,279.0 730.8,232.1 732.0,300.5 733.1,198.2 735.4,265.5 736.5,281.8 737.6,208.2 741.0,196.9 742.1,240.8 746.6,261.3 751.1,227.7 752.3,235.2 753.4,298.0 757.9,236.9 760.2,258.7 761.3,225.7 762.4,268.0 763.6,241.2 765.8,239.9 766.9,264.7 769.2,262.8 770.3,294.8" class="ln" stroke="#00ff80" clip-path="url(#cp1)"/>
<polyline points="536.8,215.5 539.1,270.5 540.2,240.2 541.3,237.6 545.9,237.9 548.1,231.5 553.7,255.2 556.0,239.5 557.1,268.8 559.4,239.1 562.8,240.2 563.9,231.2 567.3,226.4 568.4,265.3 572.9,238.9 576.3,259.3 577.4,232.5 579.7,266.7 583.1,229.6 584.2,268.3 589.8,221.0 591.0,270.5 595.5,236.3 596.6,198.4 597.7,260.9 598.9,236.4 600.0,240.2 604.5,241.6 606.8,231.9 609.0,263.9 614.7,214.5 618.0,239.5 620.3,229.0 623.7,222.4 624.8,197.5 628.2,238.3 631.6,269.2 633.8,220.3 638.3,190.5 641.7,201.0 642.9,270.5 650.8,222.7 651.9,231.9 653.0,229.3 655.3,227.4 656.4,258.5 659.8,227.2 664.3,219.9 666.5,195.6 667.7,194.6 671.1,232.2 672.2,265.2 673.3,239.9 676.7,228.1 677.8,267.1 679.0,241.7 680.1,199.1 682.3,239.2 685.7,269.9 692.5,229.3 694.7,254.7 695.9,241.7 698.1,200.7 700.4,259.9 701.5,264.5 712.8,235.9 715.1,256.2 718.4,216.3 719.6,260.4 720.7,201.9 721.8,260.0 722.9,208.4 724.1,267.5 725.2,209.3 727.5,232.0 730.8,232.1 733.1,198.2 735.4,265.5 737.6,208.2 741.0,196.9 742.1,240.8 746.6,261.3 751.1,227.7 752.3,235.2 757.9,236.9 760.2,258.7 761.3,225.7 762.4,268.0 763.6,241.2 765.8,239.9 766.9,264.7 769.2,262.8" class="mk" marker-start="url(#mo4)" marker-mid="url(#mo4)" marker-end="url(#mo4)"/>
<line x1="113.5" y1="387.0" x2="113.5" y2="582.5" class="gr"/>
<line x1="169.5" y1="387.0" x2="169.5" y2="582.5" class="gr"/>
<line x1="226.5" y1="387.0" x2="226.5" y2="582.5" class="gr"/>
<line x1="282.5" y1="387.0" x2="282.5" y2="582.5" class="gr"/>
<line x1="339.5" y1="387.0" x2="339.5" y2="582.5" class="gr"/>
<line x1="395.5" y1="387.0" x2="395.5" y2="582.5" class="gr"/>
<line x1="113.5" y1="582.5" x2="395.5" y2="582.5" class="gr"/>
<line x1="113.5" y1="552.5" x2="395.5" y2="552.5" class="gr"/>
<line x1="113.5" y1="522.5" x2="395.5" y2="522.5" class="gr"/>
<line x1="113.5" y1="492.5" x2="395.5" y2="492.5" class="gr"/>
<line x1="113.5" y1="462.5" x2="395.5" y2="462.5" class="gr"/>
<line x1="113.5" y1="432.5" x2="395.5" y2="432.5" class="gr"/>
<line x1="113.5" y1="402.5" x2="395.5" y2="402.5" class="gr"/>
<path d="M113.5 387.0V582.5H395.5" class="axl"/>
<line x1="113.5" y1="582.5" x2="113.5" y2="579.5" class="tk"/>
<line x1="169.5" y1="582.5" x2="169.5" y2="579.5" class="tk"/>
<line x1="226.5" y1="582.5" x2="226.5" y2="579.5" class="tk"/>
<line x1="282.5" y1="582.5" x2="282.5" y2="579.5" class="tk"/>
<line x1="339.5" y1="582.5" x2="339.5" y2="579.5" class="tk"/>
<line x1="395.5" y1="582.5" x2="395.5" y2="579.5" class="tk"/>
<line x1="113.5" y1="582.5" x2="116.5" y2="582.5" class="tk"/>
<line x1="113.5" y1="552.5" x2="116.5" y2="552.5" class="tk"/>
<line x1="113.5" y1="522.5" x2="116.5" y2="522.5" class="tk"/>
<line x1="113.5" y1="492.5" x2="116.5" y2="492.5" class="tk"/>
<line x1="113.5" y1="462.5" x2="116.5" y2="462.5" class="tk"/>
<line x1="113.5" y1="432.5" x2="116.5" y2="432.5" class="tk"/>
<line x1="113.5" y1="402.5" x2="116.5" y2="402.5" class="tk"/>
<clipPath id="cp2"><rect x="113.5" y="387.0" width="282.0" height="196.0"/></clipPath>
<polyline points="141.7,586.6 142.8,577.4 144.0,572.6 145.1,539.0 149.6,567.5 150.7,575.6 159.7,534.9 160.9,583.0 162.0,529.9 163.1,611.7 165.4,550.3 166.5,509.6 169.9,580.3 173.3,502.1 174.4,590.1 175.5,551.9 176.7,534.4 177.8,568.5 178.9,545.3 180.1,512.8 181.2,592.5 182.3,537.2 183.4,576.8 184.6,506.1 187.9,551.1 189.1,527.7 190.2,600.5 192.5,514.1 199.2,542.6 200.4,599.5 202.6,612.9 203.7,576.2 204.9,571.0 206.0,598.3 207.1,513.3 211.6,586.6 213.9,543.6 216.1,605.5 217.3,539.7 218.4,568.5 219.5,542.0 220.7,571.2 221.8,528.6 224.0,587.1 228.6,543.7 229.7,514.7 230.8,611.1 231.9,536.4 233.1,593.7 234.2,528.2 237.6,570.4 238.7,540.2 239.8,602.6 242.1,572.3 244.3,547.4 245.5,603.6 246.6,590.8 248.9,551.3 250.0,596.8 254.5,549.9 257.9,587.3 261.3,538.4 262.4,591.6 264.7,519.6 266.9,578.7 268.0,609.2 269.2,538.9 271.4,528.5 273.7,530.6 274.8,613.2 275.9,588.8 277.1,536.5 278.2,614.4 279.3,540.9 281.6,597.2 282.7,527.6 283.8,532.7 285.0,601.6 288.3,552.1 289.5,532.7 290.6,576.8 291.7,544.6 294.0,575.6 295.1,541.8 296.2,610.2 297.4,546.7 299.6,584.7 300.7,541.0 301.9,573.9 304.1,575.0 306.4,513.1 308.6,606.4 310.9,550.5 312.0,616.4 313.2,573.8 314.3,535.8 315.4,595.7 316.5,580.8 318.8,614.5 322.2,522.3 326.7,568.5 330.1,539.1 331.2,599.2 336.8,534.9 338.0,546.1 340.2,510.5 341.4,545.9 342.5,597.9 343.6,529.2 344.7,542.2 345.9,544.7 347.0,572.3 349.3,534.8 350.4,597.7 354.9,516.0 356.0,584.0 357.1,524.9 359.4,575.9 360.5,533.1 361.7,516.5 362.8,576.3 363.9,590.3 366.2,522.0 368.4,600.4 369.6,521.8 371.8,599.1 374.1,538.8 376.3,590.0" class="ln" stroke="#0000ff" clip-path="url(#cp2)"/>
<polyline points="142.8,577.4 144.0,572.6 145.1,539.0 149.6,567.5 150.7,575.6 159.7,534.9 162.0,529.9 165.4,550.3 166.5,509.6 169.9,580.3 173.3,502.1 175.5,551.9 176.7,534.4 177.8,568.5 178.9,545.3 180.1,512.8 182.3,537.2 183.4,576.8 184.6,506.1 187.9,551.1 189.1,527.7 192.5,514.1 199.2,542.6 203.7,576.2 204.9,571.0 207.1,513.3 213.9,543.6 217.3,539.7 218.4,568.5 219.5,542.0 220.7,571.2 221.8,528.6 228.6,543.7 229.7,514.7 231.9,536.4 234.2,528.2 237.6,570.4 238.7,540.2 242.1,572.3 244.3,547.4 248.9,551.3 254.5,549.9 261.3,538.4 264.7,519.6 266.9,578.7 269.2,538.9 271.4,528.5 273.7,530.6 277.1,536.5 279.3,540.9 282.7,527.6 283.8,532.7 288.3,552.1 289.5,532.7 290.6,576.8 291.7,544.6 294.0,575.6 295.1,541.8 297.4,546.7 300.7,541.0 301.9,573.9 304.1,575.0 306.4,513.1 310.9,550.5 313.2,573.8 314.3,535.8 316.5,580.8 322.2,522.3 326.7,568.5 330.1,539.1 336.8,534.9 338.0,546.1 340.2,510.5 341.4,545.9 343.6,529.2 344.7,542.2 345.9,544.7 347.0,572.3 349.3,534.8 354.9,516.0 357.1,524.9 359.4,575.9 360.5,533.1 361.7,516.5 362.8,576.3 366.2,522.0 369.6,521.8 374.1,538.8" class="mk" marker-start="url(#ma0)" marker-mid="url(#ma0)" marker-end="url(#ma0)"/>
<polyline points="141.7,609.4 142.8,575.2 144.0,548.0 145.1,568.6 149.6,617.3 150.7,577.3 159.7,523.3 160.9,608.9 162.0,526.8 163.1,572.4 165.4,518.9 166.5,600.4 169.9,594.6 173.3,571.4 174.4,520.0 175.5,569.8 176.7,532.2 177.8,603.1 178.9,542.2 180.1,515.3 181.2,508.8 182.3,614.0 183.4,610.1 184.6,552.5 187.9,588.7 189.1,508.4 190.2,593.4 192.5,519.0 199.2,596.0 200.4,530.1 202.6,592.2 203.7,534.8 204.9,605.2 206.0,520.7 207.1,552.4 211.6,590.3 213.9,542.0 216.1,571.9 217.3,547.3 218.4,615.0 219.5,517.6 220.7,518.9 221.8,574.4 224.0,507.2 228.6,531.5 229.7,608.8 230.8,529.2 231.9,599.5 233.1,618.0 234.2,596.0 237.6,544.7 238.7,596.3 239.8,544.0 242.1,614.1 244.3,534.4 245.5,617.8 246.6,599.8 248.9,509.1 250.0,607.3 254.5,520.8 257.9,584.1 261.3,540.6 262.4,596.5 264.7,581.1 266.9,529.4 268.0,592.9 269.2,552.3 271.4,571.7 273.7,546.5 274.8,582.6 275.9,541.3 277.1,616.8 278.2,548.7 279.3,581.1 281.6,533.5 282.7,606.4 283.8,550.7 285.0,597.7 288.3,527.9 289.5,606.5 290.6,516.8 291.7,604.3 294.0,544.0 295.1,607.3 296.2,514.6 297.4,566.5 299.6,517.7 300.7,591.1 301.9,515.7 304.1,586.7 306.4,552.4 308.6,590.5 310.9,571.8 312.0,543.4 313.2,567.1 314.3,544.0 315.4,605.1 316.5,510.8 318.8,600.6 322.2,581.3 326.7,550.8 330.1,505.1 331.2,544.6 336.8,534.8 338.0,611.1 340.2,581.8 341.4,551.8 342.5,516.1 343.6,589.9 344.7,542.9 345.9,581.0 347.0,527.5 349.3,587.0 350.4,540.2 354.9,593.8 356.0,549.5 357.1,514.8 359.4,617.5 360.5,522.6 361.7,536.2 362.8,528.9 363.9,573.9 366.2,538.1 368.4,602.2 369.6,522.8 371.8,571.2 374.1,594.3 376.3,525.4" class="ln" stroke="#0040df" clip-path="url(#cp2)"/>
<polyline points="142.8,575.2 144.0,548.0 145.1,568.6 150.7,577.3 159.7,523.3 162.0,526.8 163.1,572.4 165.4,518.9 173.3,571.4 174.4,520.0 175.5,569.8 176.7,532.2 178.9,542.2 180.1,515.3 181.2,508.8 184.6,552.5 189.1,508.4 192.5,519.0 200.4,530.1 203.7,534.8 206.0,520.7 207.1,552.4 213.9,542.0 216.1,571.9 217.3,547.3 219.5,517.6 220.7,518.9 221.8,574.4 224.0,507.2 228.6,531.5 230.8,529.2 237.6,544.7 239.8,544.0 244.3,534.4 248.9,509.1 254.5,520.8 261.3,540.6 264.7,581.1 266.9,529.4 269.2,552.3 271.4,571.7 273.7,546.5 275.9,541.3 278.2,548.7 279.3,581.1 281.6,533.5 283.8,550.7 288.3,527.9 290.6,516.8 294.0,544.0 296.2,514.6 297.4,566.5 299.6,517.7 301.9,515.7 306.4,552.4 310.9,571.8 312.0,543.4 313.2,567.1 314.3,544.0 316.5,510.8 322.2,581.3 326.7,550.8 330.1,505.1 331.2,544.6 336.8,534.8 340.2,581.8 341.4,551.8 342.5,516.1 344.7,542.9 345.9,581.0 347.0,527.5 350.4,540.2 356.0,549.5 357.1,514.8 360.5,522.6 361.7,536.2 362.8,528.9 363.9,573.9 366.2,538.1 369.6,522.8 371.8,571.2 376.3,525.4" class="mk" marker-start="url(#ma1)" marker-mid="url(#ma1)" marker-end="url(#ma1)"/>
<polyline points="141.7,544.4 142.8,590.2 144.0,547.1 145.1,533.9 149.6,567.0 150.7,548.3 159.7,609.0 160.9,511.1 162.0,516.2 163.1,521.8 165.4,598.6 166.5,594.2 169.9,547.7 173.3,575.7 174.4,545.9 175.5,610.4 176.7,524.6 177.8,611.3 178.9,590.4 180.1,543.9 181.2,565.0 182.3,545.5 183.4,575.6 184.6,548.5 187.9,597.3 189.1,543.3 190.2,567.4 192.5,606.4 199.2,540.9 200.4,617.2 202.6,548.7 203.7,586.5 204.9,514.1 206.0,603.2 207.1,543.5 211.6,584.2 213.9,526.2 216.1,608.0 217.3,518.7 218.4,615.6 219.5,547.6 220.7,608.6 221.8,550.6 224.0,617.0 228.6,524.7 229.7,584.4 230.8,550.7 231.9,598.7 233.1,536.5 234.2,604.1 237.6,506.3 238.7,608.1 239.8,595.1 242.1,537.9 244.3,605.2 245.5,547.5 246.6,596.3 248.9,541.9 250.0,609.7 254.5,609.4 257.9,511.1 261.3,586.3 262.4,531.1 264.7,591.3 266.9,520.7 268.0,532.3 269.2,542.2 271.4,510.4 273.7,614.8 274.8,523.4 275.9,589.3 277.1,515.9 278.2,548.1 279.3,575.6 281.6,532.6 282.7,582.8 283.8,546.0 285.0,585.4 288.3,595.2 289.5,528.3 290.6,568.9 291.7,543.1 294.0,523.8 295.1,604.3 296.2,540.8 297.4,512.6 299.6,532.5 300.7,534.4 301.9,588.1 304.1,580.7 306.4,543.6 308.6,617.6 310.9,527.2 312.0,521.5 313.2,612.5 314.3,520.6 315.4,612.5 316.5,574.7 318.8,552.3 322.2,571.9 326.7,544.2 330.1,580.5 331.2,550.7 336.8,573.9 338.0,534.1 340.2,577.8 341.4,552.4 342.5,609.0 343.6,593.8 344.7,530.4 345.9,616.6 347.0,546.9 349.3,572.4 350.4,529.7 354.9,595.2 356.0,537.1 357.1,610.3 359.4,517.3 360.5,598.0 361.7,535.6 362.8,613.7 363.9,534.2 366.2,614.7 368.4,543.0 369.6,523.2 371.8,609.7 374.1,547.9 376.3,611.4" class="ln" stroke="#0080bf" clip-path="url(#cp2)"/>
<polyline points="141.7,544.4 144.0,547.1 145.1,533.9 149.6,567.0 150.7,548.3 160.9,511.1 162.0,516.2 163.1,521.8 169.9,547.7 173.3,575.7 174.4,545.9 176.7,524.6 180.1,543.9 181.2,565.0 182.3,545.5 183.4,575.6 184.6,548.5 189.1,543.3 190.2,567.4 199.2,540.9 202.6,548.7 204.9,514.1 207.1,543.5 213.9,526.2 217.3,518.7 219.5,547.6 221.8,550.6 228.6,524.7 230.8,550.7 233.1,536.5 237.6,506.3 242.1,537.9 245.5,547.5 248.9,541.9 257.9,511.1 262.4,531.1 266.9,520.7 268.0,532.3 269.2,542.2 271.4,510.4 274.8,523.4 277.1,515.9 278.2,548.1 279.3,575.6 281.6,532.6 283.8,546.0 289.5,528.3 290.6,568.9 291.7,543.1 294.0,523.8 296.2,540.8 297.4,512.6 299.6,532.5 300.7,534.4 304.1,580.7 306.4,543.6 310.9,527.2 312.0,521.5 314.3,520.6 316.5,574.7 318.8,552.3 322.2,571.9 326.7,544.2 330.1,580.5 331.2,550.7 336.8,573.9 338.0,534.1 340.2,577.8 341.4,552.4 344.7,530.4 347.0,546.9 349.3,572.4 350.4,529.7 356.0,537.1 359.4,517.3 361.7,535.6 363.9,534.2 368.4,543.0 369.6,523.2 374.1,547.9" class="mk" marker-start="url(#ma2)" marker-mid="url(#ma2)" marker-end="url(#ma2)"/>
<polyline points="141.7,580.1 142.8,539.8 144.0,580.9 145.1,518.3 149.6,588.9 150.7,546.7 159.7,573.3 160.9,549.4 162.0,601.6 163.1,517.5 165.4,494.9 166.5,599.8 169.9,528.3 173.3,509.9 174.4,617.3 175.5,539.9 176.7,590.7 177.8,512.3 178.9,611.3 180.1,537.0 181.2,546.6 182.3,569.3 183.4,523.9 184.6,565.4 187.9,512.3 189.1,579.4 190.2,552.1 192.5,598.6 199.2,549.1 200.4,605.6 202.6,548.0 203.7,593.4 204.9,546.0 206.0,591.8 207.1,572.3 211.6,545.7 213.9,567.9 216.1,546.0 217.3,605.2 218.4,522.8 219.5,588.1 220.7,586.7 221.8,547.3 224.0,597.6 228.6,586.8 229.7,567.4 230.8,536.5 231.9,614.8 233.1,520.9 234.2,516.5 237.6,573.4 238.7,532.7 239.8,581.8 242.1,546.8 244.3,572.0 245.5,527.8 246.6,609.4 248.9,522.6 250.0,542.3 254.5,578.6 257.9,533.7 261.3,587.3 262.4,546.3 264.7,586.4 266.9,551.2 268.0,574.4 269.2,518.6 271.4,519.2 273.7,572.5 274.8,543.2 275.9,608.6 277.1,526.1 278.2,593.5 279.3,527.0 281.6,595.7 282.7,520.5 283.8,598.1 285.0,550.0 288.3,521.2 289.5,551.5 290.6,572.4 291.7,539.7 294.0,568.6 295.1,532.7 296.2,599.6 297.4,543.3 299.6,572.7 300.7,529.9 301.9,609.1 304.1,518.1 306.4,568.0 308.6,530.2 310.9,578.2 312.0,535.0 313.2,573.9 314.3,526.0 315.4,603.2 316.5,547.9 318.8,584.0 322.2,570.1 326.7,516.5 330.1,592.1 331.2,547.6 336.8,577.9 338.0,543.9 340.2,616.6 341.4,539.0 342.5,603.9 343.6,615.4 344.7,522.9 345.9,524.5 347.0,597.6 349.3,529.4 350.4,544.8 354.9,614.5 356.0,612.4 357.1,586.8 359.4,517.7 360.5,601.3 361.7,551.1 362.8,589.7 363.9,528.8 366.2,580.4 368.4,517.1 369.6,539.6 371.8,600.0 374.1,549.1 376.3,592.1" class="ln" stroke="#00bf9f" clip-path="url(#cp2)"/>
<polyline points="141.7,580.1 142.8,539.8 144.0,580.9 145.1,518.3 150.7,546.7 159.7,573.3 160.9,549.4 163.1,517.5 165.4,494.9 169.9,528.3 173.3,509.9 175.5,539.9 177.8,512.3 180.1,537.0 181.2,546.6 182.3,569.3 183.4,523.9 184.6,565.4 187.9,512.3 189.1,579.4 190.2,552.1 199.2,549.1 202.6,548.0 204.9,546.0 207.1,572.3 211.6,545.7 213.9,567.9 216.1,546.0 218.4,522.8 221.8,547.3 229.7,567.4 230.8,536.5 233.1,520.9 234.2,516.5 237.6,573.4 238.7,532.7 239.8,581.8 242.1,546.8 244.3,572.0 245.5,527.8 248.9,522.6 250.0,542.3 254.5,578.6 257.9,533.7 262.4,546.3 266.9,551.2 268.0,574.4 269.2,518.6 271.4,519.2 273.7,572.5 274.8,543.2 277.1,526.1 279.3,527.0 282.7,520.5 285.0,550.0 288.3,521.2 289.5,551.5 290.6,572.4 291.7,539.7 294.0,568.6 295.1,532.7 297.4,543.3 299.6,572.7 300.7,529.9 304.1,518.1 306.4,568.0 308.6,530.2 310.9,578.2 312.0,535.0 313.2,573.9 314.3,526.0 316.5,547.9 322.2,570.1 326.7,516.5 331.2,547.6 336.8,577.9 338.0,543.9 341.4,539.0 344.7,522.9 345.9,524.5 349.3,529.4 350.4,544.8 359.4,517.7 361.7,551.1 363.9,528.8 366.2,580.4 368.4,517.1 369.6,539.6 374.1,549.1" class="mk" marker-start="url(#ma3)" marker-mid="url(#ma3)" marker-end="url(#ma3)"/>
<polyline points="141.7,526.7 142.8,605.2 144.0,528.6 145.1,569.8 149.6,500.9 150.7,610.5 159.7,540.5 160.9,568.8 162.0,586.2 163.1,516.9 165.4,568.6 166.5,514.4 169.9,616.2 173.3,551.8 174.4,586.8 175.5,537.1 176.7,614.9 177.8,518.1 178.9,546.8 180.1,611.5 181.2,607.4 182.3,551.6 183.4,602.0 184.6,517.2 187.9,585.7 189.1,548.8 190.2,573.6 192.5,529.6 199.2,590.2 200.4,537.1 202.6,590.8 203.7,517.1 204.9,581.2 206.0,505.1 207.1,593.2 211.6,533.8 213.9,611.4 216.1,512.0 217.3,579.9 218.4,538.3 219.5,577.2 220.7,573.5 221.8,531.7 224.0,571.0 228.6,538.7 229.7,597.1 230.8,546.7 231.9,583.9 233.1,550.0 234.2,567.0 237.6,531.1 238.7,579.8 239.8,608.3 242.1,543.3 244.3,529.6 245.5,513.1 246.6,565.6 248.9,573.3 250.0,547.9 254.5,589.5 257.9,527.3 261.3,511.1 262.4,601.2 264.7,513.6 266.9,610.2 268.0,521.6 269.2,612.1 271.4,594.1 273.7,576.5 274.8,617.5 275.9,544.6 277.1,568.6 278.2,520.6 279.3,567.1 281.6,536.3 282.7,569.1 283.8,545.9 285.0,576.2 288.3,544.3 289.5,534.0 290.6,593.3 291.7,551.2 294.0,593.5 295.1,596.6 296.2,512.3 297.4,597.8 299.6,579.9 300.7,529.4 301.9,610.1 304.1,569.1 306.4,530.1 308.6,595.9 310.9,575.1 312.0,517.3 313.2,586.3 314.3,516.4 315.4,546.0 316.5,533.6 318.8,593.1 322.2,549.9 326.7,582.9 330.1,549.5 331.2,608.0 336.8,611.9 338.0,533.5 340.2,585.8 341.4,531.7 342.5,590.2 343.6,530.2 344.7,600.1 345.9,544.6 347.0,586.2 349.3,548.6 350.4,615.2 354.9,540.4 356.0,536.3 357.1,579.3 359.4,526.3 360.5,612.8 361.7,550.8 362.8,584.8 363.9,542.9 366.2,596.7 368.4,544.2 369.6,614.1 371.8,528.0 374.1,585.7 376.3,553.7" class="ln" stroke="#00ff80" clip-path="url(#cp2)"/>
<polyline points="141.7,526.7 144.0,528.6 145.1,569.8 149.6,500.9 159.7,540.5 160.9,568.8 163.1,516.9 165.4,568.6 166.5,514.4 173.3,551.8 175.5,537.1 177.8,518.1 178.9,546.8 182.3,551.6 184.6,517.2 189.1,548.8 190.2,573.6 192.5,529.6 200.4,537.1 203.7,517.1 204.9,581.2 206.0,505.1 211.6,533.8 216.1,512.0 217.3,579.9 218.4,538.3 219.5,577.2 220.7,573.5 221.8,531.7 224.0,571.0 228.6,538.7 230.8,546.7 233.1,550.0 234.2,567.0 237.6,531.1 238.7,579.8 242.1,543.3 244.3,529.6 245.5,513.1 246.6,565.6 248.9,573.3 250.0,547.9 257.9,527.3 261.3,511.1 264.7,513.6 268.0,521.6 273.7,576.5 275.9,544.6 277.1,568.6 278.2,520.6 279.3,567.1 281.6,536.3 282.7,569.1 283.8,545.9 285.0,576.2 288.3,544.3 289.5,534.0 291.7,551.2 296.2,512.3 299.6,579.9 300.7,529.4 304.1,569.1 306.4,530.1 310.9,575.1 312.0,517.3 314.3,516.4 315.4,546.0 316.5,533.6 322.2,549.9 330.1,549.5 338.0,533.5 341.4,531.7 343.6,530.2 345.9,544.6 349.3,548.6 354.9,540.4 356.0,536.3 357.1,579.3 359.4,526.3 361.7,550.8 363.9,542.9 368.4,544.2 371.8,528.0 376.3,553.7" class="mk" marker-start="url(#ma4)" marker-mid="url(#ma4)" marker-end="url(#ma4)"/>
<line x1="507.5" y1="387.0" x2="507.5" y2="582.5" class="gr"/>
<line x1="563.5" y1="387.0" x2="563.5" y2="582.5" class="gr"/>
<line x1="620.5" y1="387.0" x2="620.5" y2="582.5" class="gr"/>
<line x1="676.5" y1="387.0" x2="676.5" y2="582.5" class="gr"/>
<line x1="733.5" y1="387.0" x2="733.5" y2="582.5" class="gr"/>
<line x1="789.5" y1="387.0" x2="789.5" y2="582.5" class="gr"/>
<line x1="507.5" y1="582.5" x2="789.5" y2="582.5" class="gr"/>
<line x1="507.5" y1="552.5" x2="789.5" y2="552.5" class="gr"/>
<line x1="507.5" y1="522.5" x2="789.5" y2="522.5" class="gr"/>
<line x1="507.5" y1="492.5" x2="789.5" y2="492.5" class="gr"/>
<line x1="507.5" y1="462.5" x2="789.5" y2="462.5" class="gr"/>
<line x1="507.5" y1="432.5" x2="789.5" y2="432.5" class="gr"/>
<line x1="507.5" y1="402.5" x2="789.5" y2="402.5" class="gr"/>
<path d="M507.5 387.0V582.5H789.5" class="axl"/>
<line x1="507.5" y1="582.5" x2="507.5" y2="579.5" class="tk"/>
<line x1="563.5" y1="582.5" x2="563.5" y2="579.5" class="tk"/>
<line x1="620.5" y1="582.5" x2="620.5" y2="579.5" class="tk"/>
<line x1="676.5" y1="582.5" x2="676.5" y2="579.5" class="tk"/>
<line x1="733.5" y1="582.5" x2="733.5" y2="579.5" class="tk"/>
<line x1="789.5" y1="582.5" x2="789.5" y2="579.5" class="tk"/>
<line x1="507.5" y1="582.5" x2="510.5" y2="582.5" class="tk"/>
<line x1="507.5" y1="552.5" x2="510.5" y2="552.5" class="tk"/>
<line x1="507.5" y1="522.5" x2="510.5" y2="522.5" class="tk"/>
<line x1="507.5" y1="492.5" x2="510.5" y2="492.5" class="tk"/>
<line x1="507.5" y1="462.5" x2="510.5" y2="462.5" class="tk"/>
<line x1="507.5" y1="432.5" x2="510.5" y2="432.5" class="tk"/>
<line x1="507.5" y1="402.5" x2="510.5" y2="402.5" class="tk"/>
<clipPath id="cp3"><rect x="507.5" y="387.0" width="282.0" height="196.0"/></clipPath>
<polyline points="533.4,475.7 534.6,541.7 535.7,509.3 538.0,487.4 539.1,579.5 543.6,600.8 544.7,535.7 553.7,570.5 554.9,525.2 556.0,595.1 559.4,486.1 560.5,540.1 563.9,580.7 567.3,547.1 568.4,603.2 569.5,538.6 570.7,576.8 571.8,601.9 574.1,529.8 575.2,605.2 576.3,542.3 577.4,490.6 578.6,517.9 581.9,514.3 583.1,543.1 584.2,508.3 586.5,582.5 593.2,500.8 594.4,546.5 596.6,521.6 597.7,528.8 598.9,605.6 600.0,612.5 601.1,540.0 607.9,500.8 610.1,597.2 611.3,519.8 612.4,550.3 613.5,577.1 614.7,551.8 615.8,545.0 618.0,532.1 623.7,542.2 624.8,506.6 625.9,511.5 628.2,513.9 631.6,582.5 632.7,595.7 633.8,537.1 636.1,616.9 638.3,589.9 639.5,508.4 640.6,523.5 642.9,536.6 651.9,524.4 655.3,526.1 656.4,536.5 658.7,599.7 660.9,538.3 662.0,588.4 663.2,528.3 665.4,607.8 667.7,617.6 668.8,600.4 669.9,504.7 672.2,517.2 673.3,602.7 682.3,505.6 683.5,591.2 685.7,604.6 688.0,532.8 689.1,584.9 690.2,528.0 693.6,592.4 695.9,588.5 698.1,614.8 700.4,537.4 702.6,537.7 704.9,611.9 706.0,529.4 707.2,550.7 709.4,508.8 710.5,603.9 712.8,544.4 716.2,520.7 720.7,550.7 724.1,614.4 730.8,532.4 732.0,593.9 735.4,535.5 736.5,512.4 737.6,527.1 738.7,513.6 741.0,551.3 743.3,597.0 744.4,525.4 748.9,585.5 750.0,606.0 751.1,598.0 753.4,526.7 754.5,513.9 756.8,585.7 757.9,540.0 762.4,511.1 763.6,537.6 765.8,512.5 768.1,517.6 770.3,515.4" class="ln" stroke="#0000ff" clip-path="url(#cp3)"/>
<polyline points="533.4,475.7 534.6,541.7 535.7,509.3 538.0,487.4 539.1,579.5 544.7,535.7 553.7,570.5 554.9,525.2 559.4,486.1 560.5,540.1 563.9,580.7 567.3,547.1 569.5,538.6 570.7,576.8 574.1,529.8 576.3,542.3 577.4,490.6 578.6,517.9 581.9,514.3 583.1,543.1 584.2,508.3 586.5,582.5 593.2,500.8 594.4,546.5 596.6,521.6 597.7,528.8 601.1,540.0 607.9,500.8 611.3,519.8 612.4,550.3 613.5,577.1 614.7,551.8 615.8,545.0 618.0,532.1 623.7,542.2 624.8,506.6 625.9,511.5 628.2,513.9 631.6,582.5 633.8,537.1 639.5,508.4 640.6,523.5 642.9,536.6 651.9,524.4 655.3,526.1 656.4,536.5 660.9,538.3 663.2,528.3 669.9,504.7 672.2,517.2 682.3,505.6 688.0,532.8 690.2,528.0 700.4,537.4 702.6,537.7 706.0,529.4 707.2,550.7 709.4,508.8 712.8,544.4 716.2,520.7 720.7,550.7 730.8,532.4 735.4,535.5 736.5,512.4 737.6,527.1 738.7,513.6 741.0,551.3 744.4,525.4 753.4,526.7 754.5,513.9 757.9,540.0 762.4,511.1 763.6,537.6 765.8,512.5 768.1,517.6 770.3,515.4" class="mk" marker-start="url(#mo0)" marker-mid="url(#mo0)" marker-end="url(#mo0)"/>
<polyline points="533.4,508.6 534.6,526.8 535.7,605.9 538.0,531.3 539.1,530.3 543.6,542.0 544.7,595.5 553.7,512.9 554.9,507.6 556.0,550.4 559.4,612.1 560.5,581.4 563.9,555.5 567.3,536.5 568.4,523.4 569.5,539.4 570.7,496.8 571.8,514.5 574.1,589.7 575.2,614.2 576.3,503.6 577.4,544.7 578.6,519.9 581.9,580.7 583.1,494.8 584.2,523.2 586.5,568.1 593.2,497.6 594.4,539.7 596.6,549.7 597.7,585.6 598.9,551.1 600.0,515.2 601.1,536.2 607.9,513.8 610.1,541.1 611.3,548.7 612.4,613.2 613.5,575.4 614.7,504.5 615.8,509.3 618.0,528.7 623.7,518.8 624.8,518.5 625.9,532.3 628.2,496.8 631.6,543.6 632.7,549.9 633.8,543.4 636.1,502.1 638.3,600.8 639.5,542.6 640.6,510.5 642.9,567.3 651.9,520.4 655.3,549.0 656.4,579.7 658.7,528.9 660.9,502.9 662.0,540.2 663.2,573.5 665.4,594.1 667.7,597.4 668.8,587.9 669.9,512.2 672.2,579.8 673.3,502.2 682.3,551.8 683.5,533.1 685.7,541.9 688.0,516.3 689.1,585.8 690.2,523.8 693.6,537.6 695.9,505.2 698.1,530.5 700.4,594.9 702.6,539.3 704.9,512.9 706.0,525.3 707.2,547.4 709.4,515.1 710.5,549.4 712.8,546.6 716.2,514.6 720.7,549.6 724.1,510.4 730.8,540.7 732.0,550.4 735.4,544.7 736.5,509.5 737.6,572.2 738.7,562.1 741.0,538.7 743.3,524.1 744.4,549.2 748.9,530.6 750.0,516.6 751.1,610.4 753.4,546.8 754.5,536.1 756.8,531.8 757.9,616.1 762.4,527.2 763.6,596.7 765.8,527.3 768.1,537.5 770.3,564.5" class="ln" stroke="#0040df" clip-path="url(#cp3)"/>
<polyline points="533.4,508.6 534.6,526.8 538.0,531.3 539.1,530.3 543.6,542.0 553.7,512.9 554.9,507.6 556.0,550.4 560.5,581.4 563.9,555.5 567.3,536.5 568.4,523.4 569.5,539.4 570.7,496.8 571.8,514.5 576.3,503.6 577.4,544.7 578.6,519.9 581.9,580.7 583.1,494.8 584.2,523.2 586.5,568.1 593.2,497.6 594.4,539.7 596.6,549.7 598.9,551.1 600.0,515.2 601.1,536.2 607.9,513.8 610.1,541.1 611.3,548.7 613.5,575.4 614.7,504.5 615.8,509.3 618.0,528.7 623.7,518.8 624.8,518.5 625.9,532.3 628.2,496.8 631.6,543.6 632.7,549.9 633.8,543.4 636.1,502.1 639.5,542.6 640.6,510.5 642.9,567.3 651.9,520.4 655.3,549.0 656.4,579.7 658.7,528.9 660.9,502.9 662.0,540.2 663.2,573.5 669.9,512.2 672.2,579.8 673.3,502.2 682.3,551.8 683.5,533.1 685.7,541.9 688.0,516.3 690.2,523.8 693.6,537.6 695.9,505.2 698.1,530.5 702.6,539.3 704.9,512.9 706.0,525.3 707.2,547.4 709.4,515.1 710.5,549.4 712.8,546.6 716.2,514.6 720.7,549.6 724.1,510.4 730.8,540.7 732.0,550.4 735.4,544.7 736.5,509.5 737.6,572.2 738.7,562.1 741.0,538.7 743.3,524.1 744.4,549.2 748.9,530.6 750.0,516.6 753.4,546.8 754.5,536.1 756.8,531.8 762.4,527.2 765.8,527.3 768.1,537.5 770.3,564.5" class="mk" marker-start="url(#mo1)" marker-mid="url(#mo1)" marker-end="url(#mo1)"/>
<polyline points="533.4,404.9 534.6,401.9 535.7,402.8 538.0,401.2 539.1,392.5 543.6,386.3 544.7,389.5 553.7,389.3 554.9,400.4 556.0,399.4 559.4,397.6 560.5,399.7 563.9,400.6 567.3,395.4 568.4,399.9 569.5,397.2 570.7,393.9 571.8,423.5 574.1,397.3 575.2,405.4 576.3,394.2 577.4,399.9 578.6,395.1 581.9,397.7 583.1,403.9 584.2,398.5 586.5,404.3 593.2,400.4 594.4,403.7 596.6,404.7 597.7,417.6 598.9,416.3 600.0,410.6 601.1,413.3 607.9,404.0 610.1,408.9 611.3,410.6 612.4,413.3 613.5,416.5 614.7,412.0 615.8,422.9 618.0,426.4 623.7,430.3 624.8,428.6 625.9,422.8 628.2,425.5 631.6,432.2 632.7,425.8 633.8,428.2 636.1,420.1 638.3,425.1 639.5,427.9 640.6,436.2 642.9,437.1 651.9,419.9 655.3,437.8 656.4,437.1 658.7,437.3 660.9,419.8 662.0,433.3 663.2,422.2 665.4,422.3 667.7,421.4 668.8,429.9 669.9,428.1 672.2,422.1 673.3,429.3 682.3,434.1 683.5,438.6 685.7,422.2 688.0,426.4 689.1,419.5 690.2,438.6 693.6,434.8 695.9,420.4 698.1,434.4 700.4,440.4 702.6,427.1 704.9,430.9 706.0,440.9 707.2,435.9 709.4,425.6 710.5,442.9 712.8,426.3 716.2,422.6 720.7,439.4 724.1,444.6 730.8,442.2 732.0,450.5 735.4,439.1 736.5,448.5 737.6,434.5 738.7,441.0 741.0,453.6 743.3,444.2 744.4,453.9 748.9,451.0 750.0,439.7 751.1,443.2 753.4,444.5 754.5,441.2 756.8,450.2 757.9,450.8 762.4,449.2 763.6,437.6 765.8,446.9 768.1,437.6 770.3,433.9" class="ln" stroke="#0080bf" clip-path="url(#cp3)"/>
<polyline points="533.4,404.9 534.6,401.9 535.7,402.8 538.0,401.2 539.1,392.5 544.7,389.5 553.7,389.3 554.9,400.4 556.0,399.4 559.4,397.6 560.5,399.7 563.9,400.6 567.3,395.4 568.4,399.9 569.5,397.2 570.7,393.9 571.8,423.5 574.1,397.3 575.2,405.4 576.3,394.2 577.4,399.9 578.6,395.1 581.9,397.7 583.1,403.9 584.2,398.5 586.5,404.3 593.2,400.4 594.4,403.7 596.6,404.7 597.7,417.6 598.9,416.3 600.0,410.6 601.1,413.3 607.9,404.0 610.1,408.9 611.3,410.6 612.4,413.3 613.5,416.5 614.7,412.0 615.8,422.9 618.0,426.4 623.7,430.3 624.8,428.6 625.9,422.8 628.2,425.5 631.6,432.2 632.7,425.8 633.8,428.2 636.1,420.1 638.3,425.1 639.5,427.9 640.6,436.2 642.9,437.1 651.9,419.9 655.3,437.8 656.4,437.1 658.7,437.3 660.9,419.8 662.0,433.3 663.2,422.2 665.4,422.3 667.7,421.4 668.8,429.9 669.9,428.1 672.2,422.1 673.3,429.3 682.3,434.1 683.5,438.6 685.7,422.2 688.0,426.4 689.1,419.5 690.2,438.6 693.6,434.8 695.9,420.4 698.1,434.4 700.4,440.4 702.6,427.1 704.9,430.9 706.0,440.9 707.2,435.9 709.4,425.6 710.5,442.9 712.8,426.3 716.2,422.6 720.7,439.4 724.1,444.6 730.8,442.2 732.0,450.5 735.4,439.1 736.5,448.5 737.6,434.5 738.7,441.0 741.0,453.6 743.3,444.2 744.4,453.9 748.9,451.0 750.0,439.7 751.1,443.2 753.4,444.5 754.5,441.2 756.8,450.2 757.9,450.8 762.4,449.2 763.6,437.6 765.8,446.9 768.1,437.6 770.3,433.9" class="mk" marker-start="url(#mo2)" marker-mid="url(#mo2)" marker-end="url(#mo2)"/>
<polyline points="533.4,463.1 534.6,455.0 535.7,452.6 538.0,436.9 539.1,431.9 543.6,430.7 544.7,534.2 553.7,456.7 554.9,448.5 556.0,451.3 559.4,553.5 560.5,447.2 563.9,444.2 567.3,446.1 568.4,499.0 569.5,449.8 570.7,458.2 571.8,452.5 574.1,454.0 575.2,456.2 576.3,446.4 577.4,454.1 578.6,451.8 581.9,543.4 583.1,454.1 584.2,455.4 586.5,450.3 593.2,471.0 594.4,507.3 596.6,457.0 597.7,458.5 598.9,469.2 600.0,468.7 601.1,456.0 607.9,477.6 610.1,457.2 611.3,506.1 612.4,459.4 613.5,473.6 614.7,460.8 615.8,469.7 618.0,464.4 623.7,472.2 624.8,514.4 625.9,551.3 628.2,464.4 631.6,460.7 632.7,459.8 633.8,558.5 636.1,445.7 638.3,468.4 639.5,483.0 640.6,463.2 642.9,551.0 651.9,481.0 655.3,481.4 656.4,465.6 658.7,458.3 660.9,518.9 662.0,457.7 663.2,504.7 665.4,481.2 667.7,474.8 668.8,468.7 669.9,474.7 672.2,470.3 673.3,465.5 682.3,525.3 683.5,553.6 685.7,474.0 688.0,456.9 689.1,479.6 690.2,552.7 693.6,459.5 695.9,513.6 698.1,459.3 700.4,467.7 702.6,476.7 704.9,467.6 706.0,473.5 707.2,474.6 709.4,542.3 710.5,475.0 712.8,480.7 716.2,477.6 720.7,535.3 724.1,468.8 730.8,524.0 732.0,481.7 735.4,472.4 736.5,474.4 737.6,512.1 738.7,553.1 741.0,473.2 743.3,481.2 744.4,466.1 748.9,545.7 750.0,466.8 751.1,540.6 753.4,546.4 754.5,500.3 756.8,560.8 757.9,468.5 762.4,483.8 763.6,475.3 765.8,471.3 768.1,558.9 770.3,482.9" class="ln" stroke="#00bf9f" clip-path="url(#cp3)"/>
<polyline points="533.4,463.1 534.6,455.0 535.7,452.6 538.0,436.9 539.1,431.9 543.6,430.7 544.7,534.2 553.7,456.7 554.9,448.5 556.0,451.3 559.4,553.5 560.5,447.2 563.9,444.2 567.3,446.1 568.4,499.0 569.5,449.8 570.7,458.2 571.8,452.5 574.1,454.0 575.2,456.2 576.3,446.4 577.4,454.1 578.6,451.8 581.9,543.4 583.1,454.1 584.2,455.4 586.5,450.3 593.2,471.0 594.4,507.3 596.6,457.0 597.7,458.5 598.9,469.2 600.0,468.7 601.1,456.0 607.9,477.6 610.1,457.2 611.3,506.1 612.4,459.4 613.5,473.6 614.7,460.8 615.8,469.7 618.0,464.4 623.7,472.2 624.8,514.4 625.9,551.3 628.2,464.4 631.6,460.7 632.7,459.8 633.8,558.5 636.1,445.7 638.3,468.4 639.5,483.0 640.6,463.2 642.9,551.0 651.9,481.0 655.3,481.4 656.4,465.6 658.7,458.3 660.9,518.9 662.0,457.7 663.2,504.7 665.4,481.2 667.7,474.8 668.8,468.7 669.9,474.7 672.2,470.3 673.3,465.5 682.3,525.3 683.5,553.6 685.7,474.0 688.0,456.9 689.1,479.6 690.2,552.7 693.6,459.5 695.9,513.6 698.1,459.3 700.4,467.7 702.6,476.7 704.9,467.6 706.0,473.5 707.2,474.6 709.4,542.3 710.5,475.0 712.8,480.7 716.2,477.6 720.7,535.3 724.1,468.8 730.8,524.0 732.0,481.7 735.4,472.4 736.5,474.4 737.6,512.1 738.7,553.1 741.0,473.2 743.3,481.2 744.4,466.1 748.9,545.7 750.0,466.8 751.1,540.6 753.4,546.4 754.5,500.3 756.8,560.8 757.9,468.5 762.4,483.8 763.6,475.3 765.8,471.3 768.1,558.9 770.3,482.9" class="mk" marker-start="url(#mo3)" marker-mid="url(#mo3)" marker-end="url(#mo3)"/>
<polyline points="533.4,503.5 534.6,508.8 535.7,492.5 538.0,508.7 539.1,542.9 543.6,474.5 544.7,528.8 553.7,499.8 554.9,477.9 556.0,526.4 559.4,488.3 560.5,542.3 563.9,607.7 567.3,567.5 568.4,582.5 569.5,504.2 570.7,475.7 571.8,504.3 574.1,535.6 575.2,531.3 576.3,524.1 577.4,499.3 578.6,484.3 581.9,542.3 583.1,536.1 584.2,612.0 586.5,611.1 593.2,490.9 594.4,505.6 596.6,513.9 597.7,519.6 598.9,528.1 600.0,491.1 601.1,489.5 607.9,549.5 610.1,539.2 611.3,614.2 612.4,601.0 613.5,539.8 614.7,593.6 615.8,510.3 618.0,500.1 623.7,501.5 624.8,539.6 625.9,617.9 628.2,618.3 631.6,570.5 632.7,592.4 633.8,504.5 636.1,530.2 638.3,530.0 639.5,607.6 640.6,604.2 642.9,531.3 651.9,563.3 655.3,531.2 656.4,579.6 658.7,515.7 660.9,535.9 662.0,543.1 663.2,570.2 665.4,500.4 667.7,515.1 668.8,495.5 669.9,506.8 672.2,539.8 673.3,501.3 682.3,523.3 683.5,502.6 685.7,579.8 688.0,540.6 689.1,512.6 690.2,537.8 693.6,505.8 695.9,528.4 698.1,501.5 700.4,535.1 702.6,539.0 704.9,576.5 706.0,539.1 707.2,565.6 709.4,585.8 710.5,530.4 712.8,588.1 716.2,541.0 720.7,582.5 724.1,503.3 730.8,521.0 732.0,602.2 735.4,515.8 736.5,586.6 737.6,496.7 738.7,507.8 741.0,500.3 743.3,517.8 744.4,564.5 748.9,530.1 750.0,616.6 751.1,615.6 753.4,520.4 754.5,512.0 756.8,581.3 757.9,501.5 762.4,542.8 763.6,599.5 765.8,536.3 768.1,513.5 770.3,541.6" class="ln" stroke="#00ff80" clip-path="url(#cp3)"/>
<polyline points="533.4,503.5 534.6,508.8 535.7,492.5 538.0,508.7 539.1,542.9 543.6,474.5 544.7,528.8 553.7,499.8 554.9,477.9 556.0,526.4 559.4,488.3 560.5,542.3 567.3,567.5 568.4,582.5 569.5,504.2 570.7,475.7 571.8,504.3 574.1,535.6 575.2,531.3 576.3,524.1 577.4,499.3 578.6,484.3 581.9,542.3 583.1,536.1 593.2,490.9 594.4,505.6 596.6,513.9 597.7,519.6 598.9,528.1 600.0,491.1 601.1,489.5 607.9,549.5 610.1,539.2 613.5,539.8 615.8,510.3 618.0,500.1 623.7,501.5 624.8,539.6 631.6,570.5 633.8,504.5 636.1,530.2 638.3,530.0 642.9,531.3 651.9,563.3 655.3,531.2 656.4,579.6 658.7,515.7 660.9,535.9 662.0,543.1 663.2,570.2 665.4,500.4 667.7,515.1 668.8,495.5 669.9,506.8 672.2,539.8 673.3,501.3 682.3,523.3 683.5,502.6 685.7,579.8 688.0,540.6 689.1,512.6 690.2,537.8 693.6,505.8 695.9,528.4 698.1,501.5 700.4,535.1 702.6,539.0 704.9,576.5 706.0,539.1 707.2,565.6 710.5,530.4 716.2,541.0 720.7,582.5 724.1,503.3 730.8,521.0 735.4,515.8 737.6,496.7 738.7,507.8 741.0,500.3 743.3,517.8 744.4,564.5 748.9,530.1 753.4,520.4 754.5,512.0 756.8,581.3 757.9,501.5 762.4,542.8 765.8,536.3 768.1,513.5 770.3,541.6" class="mk" marker-start="url(#mo4)" marker-mid="url(#mo4)" marker-end="url(#mo4)"/>
<g style="will-change:transform">
<text transform="translate(450.5,29) scale(1,0.9)" class="tt" text-anchor="middle">BINS VECINOS MRK Y SPC</text>
<text x="112.2" y="298.6" class="tl" text-anchor="middle">29400</text>
<text x="168.6" y="298.6" class="tl" text-anchor="middle">29450</text>
<text x="225.0" y="298.6" class="tl" text-anchor="middle">29500</text>
<text x="281.4" y="298.6" class="tl" text-anchor="middle">29550</text>
<text x="337.8" y="298.6" class="tl" text-anchor="middle">29600</text>
<text x="394.2" y="298.6" class="tl" text-anchor="middle">29650</text>
<text x="104.0" y="277.4" class="tl" text-anchor="end">0</text>
<text x="104.0" y="245.4" class="tl" text-anchor="end">5</text>
<text x="104.0" y="213.4" class="tl" text-anchor="end">10</text>
<text x="104.0" y="181.4" class="tl" text-anchor="end">15</text>
<text x="104.0" y="149.4" class="tl" text-anchor="end">20</text>
<text x="104.0" y="117.4" class="tl" text-anchor="end">25</text>
<text x="104.0" y="85.4" class="tl" text-anchor="end">30</text>
<text x="253.5" y="322.6" class="lb" text-anchor="middle">tiempo/bit</text>
<text transform="translate(69.9,172.8) rotate(-90) scale(1,0.9)" class="lb" text-anchor="middle">power/dBr</text>
<text transform="translate(253.5,54) scale(1,0.88)" class="tt" text-anchor="middle">marca bit=1</text>
<text x="506.2" y="298.6" class="tl" text-anchor="middle">29400</text>
<text x="562.6" y="298.6" class="tl" text-anchor="middle">29450</text>
<text x="619.0" y="298.6" class="tl" text-anchor="middle">29500</text>
<text x="675.4" y="298.6" class="tl" text-anchor="middle">29550</text>
<text x="731.8" y="298.6" class="tl" text-anchor="middle">29600</text>
<text x="788.2" y="298.6" class="tl" text-anchor="middle">29650</text>
<text x="498.0" y="277.4" class="tl" text-anchor="end">0</text>
<text x="498.0" y="245.4" class="tl" text-anchor="end">5</text>
<text x="498.0" y="213.4" class="tl" text-anchor="end">10</text>
<text x="498.0" y="181.4" class="tl" text-anchor="end">15</text>
<text x="498.0" y="149.4" class="tl" text-anchor="end">20</text>
<text x="498.0" y="117.4" class="tl" text-anchor="end">25</text>
<text x="498.0" y="85.4" class="tl" text-anchor="end">30</text>
<text x="647.5" y="322.6" class="lb" text-anchor="middle">tiempo/bit</text>
<text transform="translate(463.9,172.8) rotate(-90) scale(1,0.9)" class="lb" text-anchor="middle">power/dBr</text>
<text transform="translate(647.5,51) scale(1,0.88)" class="tt" text-anchor="middle">espacio bit=1</text>
<text x="112.2" y="610.6" class="tl" text-anchor="middle">29400</text>
<text x="168.6" y="610.6" class="tl" text-anchor="middle">29450</text>
<text x="225.0" y="610.6" class="tl" text-anchor="middle">29500</text>
<text x="281.4" y="610.6" class="tl" text-anchor="middle">29550</text>
<text x="337.8" y="610.6" class="tl" text-anchor="middle">29600</text>
<text x="394.2" y="610.6" class="tl" text-anchor="middle">29650</text>
<text x="104.0" y="589.4" class="tl" text-anchor="end">0</text>
<text x="104.0" y="559.4" class="tl" text-anchor="end">5</text>
<text x="104.0" y="529.4" class="tl" text-anchor="end">10</text>
<text x="104.0" y="499.4" class="tl" text-anchor="end">15</text>
<text x="104.0" y="469.4" class="tl" text-anchor="end">20</text>
<text x="104.0" y="439.4" class="tl" text-anchor="end">25</text>
<text x="104.0" y="409.4" class="tl" text-anchor="end">30</text>
<text x="253.5" y="634.6" class="lb" text-anchor="middle">tiempo/bit</text>
<text transform="translate(69.9,484.8) rotate(-90) scale(1,0.9)" class="lb" text-anchor="middle">power/dBr</text>
<text transform="translate(253.5,366) scale(1,0.88)" class="tt" text-anchor="middle">marca bit=0</text>
<text x="506.2" y="610.6" class="tl" text-anchor="middle">29400</text>
<text x="562.6" y="610.6" class="tl" text-anchor="middle">29450</text>
<text x="619.0" y="610.6" class="tl" text-anchor="middle">29500</text>
<text x="675.4" y="610.6" class="tl" text-anchor="middle">29550</text>
<text x="731.8" y="610.6" class="tl" text-anchor="middle">29600</text>
<text x="788.2" y="610.6" class="tl" text-anchor="middle">29650</text>
<text x="498.0" y="589.4" class="tl" text-anchor="end">0</text>
<text x="498.0" y="559.4" class="tl" text-anchor="end">5</text>
<text x="498.0" y="529.4" class="tl" text-anchor="end">10</text>
<text x="498.0" y="499.4" class="tl" text-anchor="end">15</text>
<text x="498.0" y="469.4" class="tl" text-anchor="end">20</text>
<text x="498.0" y="439.4" class="tl" text-anchor="end">25</text>
<text x="498.0" y="409.4" class="tl" text-anchor="end">30</text>
<text x="647.5" y="634.6" class="lb" text-anchor="middle">tiempo/bit</text>
<text transform="translate(463.9,484.8) rotate(-90) scale(1,0.9)" class="lb" text-anchor="middle">power/dBr</text>
<text transform="translate(647.5,363) scale(1,0.88)" class="tt" text-anchor="middle">espacio bit=0</text>
</g>
</svg></body></html>
